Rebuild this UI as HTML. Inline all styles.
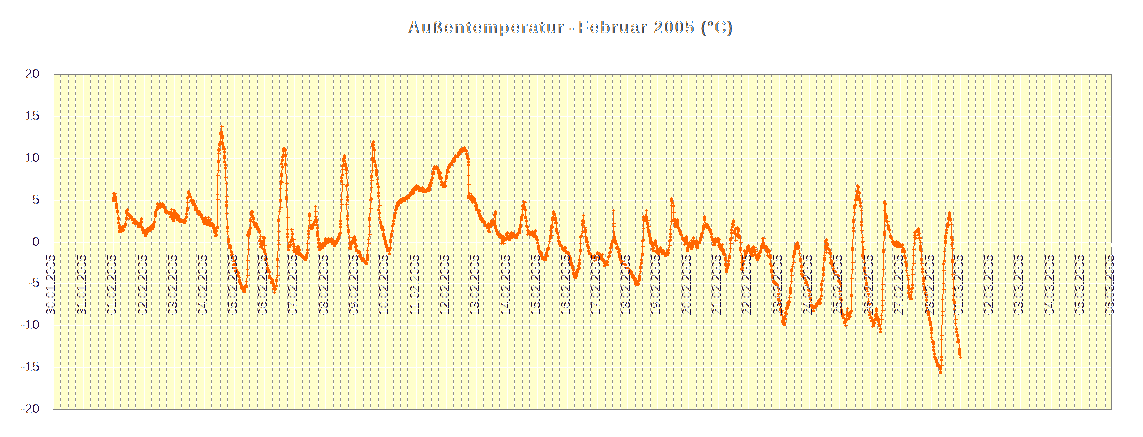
<!DOCTYPE html>
<html lang="de"><head><meta charset="utf-8"><title>Außentemperatur - Februar 2005 (°C)</title>
<style>html,body{margin:0;padding:0;background:#fff;}body{width:1143px;height:437px;overflow:hidden;}svg{display:block;}</style>
</head><body>
<svg width="1143" height="437" viewBox="0 0 1143 437">
<rect x="0" y="0" width="1143" height="437" fill="#fff"/>
<rect x="54" y="74" width="1058" height="336" fill="#ffffcc" shape-rendering="crispEdges"/>
<path d="M54 367.5H1111M54 325.5H1111M54 283.5H1111M54 242.5H1111M54 200.5H1111M54 158.5H1111M54 116.5H1111" stroke="#fff" stroke-width="1" fill="none" shape-rendering="crispEdges"/>
<path d="M83.5 74V409M113.5 74V409M144.5 74V409M174.5 74V409M204.5 74V409M234.5 74V409M264.5 74V409M294.5 74V409M325.5 74V409M355.5 74V409M385.5 74V409M416.5 74V409M446.5 74V409M476.5 74V409M507.5 74V409M537.5 74V409M567.5 74V409M597.5 74V409M627.5 74V409M657.5 74V409M688.5 74V409M718.5 74V409M748.5 74V409M779.5 74V409M809.5 74V409M839.5 74V409M870.5 74V409M900.5 74V409M931.5 74V409M960.5 74V409M990.5 74V409M1020.5 74V409M1051.5 74V409M1081.5 74V409" stroke="#fff" stroke-width="1" fill="none" shape-rendering="crispEdges"/>
<path d="M60.5 74V409M68.5 74V409M75.5 74V409M90.5 74V409M98.5 74V409M105.5 74V409M120.5 74V409M128.5 74V409M135.5 74V409M151.5 74V409M159.5 74V409M166.5 74V409M181.5 74V409M189.5 74V409M196.5 74V409M211.5 74V409M220.5 74V409M227.5 74V409M242.5 74V409M249.5 74V409M257.5 74V409M272.5 74V409M279.5 74V409M287.5 74V409M302.5 74V409M309.5 74V409M318.5 74V409M333.5 74V409M340.5 74V409M348.5 74V409M363.5 74V409M370.5 74V409M378.5 74V409M393.5 74V409M400.5 74V409M407.5 74V409M423.5 74V409M431.5 74V409M438.5 74V409M453.5 74V409M461.5 74V409M468.5 74V409M483.5 74V409M492.5 74V409M499.5 74V409M514.5 74V409M522.5 74V409M529.5 74V409M544.5 74V409M552.5 74V409M559.5 74V409M574.5 74V409M583.5 74V409M590.5 74V409M605.5 74V409M612.5 74V409M620.5 74V409M635.5 74V409M642.5 74V409M650.5 74V409M666.5 74V409M673.5 74V409M681.5 74V409M696.5 74V409M703.5 74V409M711.5 74V409M726.5 74V409M733.5 74V409M741.5 74V409M757.5 74V409M764.5 74V409M771.5 74V409M786.5 74V409M794.5 74V409M801.5 74V409M816.5 74V409M824.5 74V409M831.5 74V409M846.5 74V409M855.5 74V409M862.5 74V409M877.5 74V409M885.5 74V409M892.5 74V409M907.5 74V409M915.5 74V409M922.5 74V409M938.5 74V409M945.5 74V409M953.5 74V409M968.5 74V409M975.5 74V409M983.5 74V409M998.5 74V409M1005.5 74V409M1013.5 74V409M1029.5 74V409M1036.5 74V409M1044.5 74V409M1059.5 74V409M1066.5 74V409M1074.5 74V409M1089.5 74V409M1096.5 74V409M1105.5 74V409" stroke="#fff" stroke-width="1" fill="none" shape-rendering="crispEdges"/>
<path d="M60.5 74V409M68.5 74V409M75.5 74V409M90.5 74V409M98.5 74V409M105.5 74V409M120.5 74V409M128.5 74V409M135.5 74V409M151.5 74V409M159.5 74V409M166.5 74V409M181.5 74V409M189.5 74V409M196.5 74V409M211.5 74V409M220.5 74V409M227.5 74V409M242.5 74V409M249.5 74V409M257.5 74V409M272.5 74V409M279.5 74V409M287.5 74V409M302.5 74V409M309.5 74V409M318.5 74V409M333.5 74V409M340.5 74V409M348.5 74V409M363.5 74V409M370.5 74V409M378.5 74V409M393.5 74V409M400.5 74V409M407.5 74V409M423.5 74V409M431.5 74V409M438.5 74V409M453.5 74V409M461.5 74V409M468.5 74V409M483.5 74V409M492.5 74V409M499.5 74V409M514.5 74V409M522.5 74V409M529.5 74V409M544.5 74V409M552.5 74V409M559.5 74V409M574.5 74V409M583.5 74V409M590.5 74V409M605.5 74V409M612.5 74V409M620.5 74V409M635.5 74V409M642.5 74V409M650.5 74V409M666.5 74V409M673.5 74V409M681.5 74V409M696.5 74V409M703.5 74V409M711.5 74V409M726.5 74V409M733.5 74V409M741.5 74V409M757.5 74V409M764.5 74V409M771.5 74V409M786.5 74V409M794.5 74V409M801.5 74V409M816.5 74V409M824.5 74V409M831.5 74V409M846.5 74V409M855.5 74V409M862.5 74V409M877.5 74V409M885.5 74V409M892.5 74V409M907.5 74V409M915.5 74V409M922.5 74V409M938.5 74V409M945.5 74V409M953.5 74V409M968.5 74V409M975.5 74V409M983.5 74V409M998.5 74V409M1005.5 74V409M1013.5 74V409M1029.5 74V409M1036.5 74V409M1044.5 74V409M1059.5 74V409M1066.5 74V409M1074.5 74V409M1089.5 74V409M1096.5 74V409M1105.5 74V409" stroke="#909090" stroke-width="1" stroke-dasharray="3 3" fill="none" shape-rendering="crispEdges"/>
<path d="M54 74.5H1112M1111.5 74V410M53 409.5H1112" stroke="#808080" stroke-width="1" fill="none" shape-rendering="crispEdges"/>
<rect x="1111" y="243" width="1" height="4" fill="#fff" shape-rendering="crispEdges"/>
<defs><filter id="ctn" filterUnits="userSpaceOnUse" x="0" y="0" width="1143" height="437" color-interpolation-filters="sRGB">
<feComponentTransfer in="SourceAlpha" result="S"><feFuncA type="linear" slope="8" intercept="-3.3"/></feComponentTransfer>
<feOffset in="S" dx="2" result="sr"/><feOffset in="S" dx="-2" result="sl"/>
<feOffset in="S" dx="2" result="sr2"/><feOffset in="S" dx="-2" result="sl2"/>
<feOffset in="S" dy="1" result="sd"/><feOffset in="S" dy="-1" result="su"/>
<feOffset in="S" dx="1" dy="1" result="sd1"/><feOffset in="S" dx="-1" dy="1" result="sd2"/><feOffset in="S" dx="1" dy="-1" result="su1"/><feOffset in="S" dx="-1" dy="-1" result="su2"/>
<feMerge result="V0"><feMergeNode in="sd"/><feMergeNode in="su"/><feMergeNode in="sd1"/><feMergeNode in="sd2"/><feMergeNode in="su1"/><feMergeNode in="su2"/></feMerge><feComposite in="V0" in2="S" operator="in" result="V"/>
<feComposite in="S" in2="sr" operator="out" result="Lm0"/><feComposite in="Lm0" in2="V" operator="in" result="Lm"/>
<feComposite in="S" in2="sl" operator="out" result="Rm0"/><feComposite in="Rm0" in2="V" operator="in" result="Rm"/>
<feComposite in="S" in2="sr2" operator="out" result="Lm2"/>
<feComposite in="S" in2="sl2" operator="out" result="Rm2"/>
<feComposite in="Lm2" in2="Rm2" operator="in" result="LRm0"/><feComposite in="LRm0" in2="V" operator="in" result="LRm"/>
<feFlood flood-color="#c06a1e"/><feComposite in2="Lm" operator="in" result="Lc"/>
<feFlood flood-color="#1e5cc0"/><feComposite in2="Rm" operator="in" result="Rc"/>
<feFlood flood-color="#2a0a48" flood-opacity="1.0"/><feComposite in2="LRm" operator="in" result="LRc"/>
<feFlood flood-color="#ffffff"/><feComposite in2="S" operator="in" result="Wc"/>
<feOffset in="S" dx="1" result="s1r"/><feOffset in="S" dx="-1" result="s1l"/>
<feComposite in="S" in2="s1r" operator="out" result="Le"/><feComposite in="S" in2="s1l" operator="out" result="Re"/>
<feFlood flood-color="#e8902a" flood-opacity="1.0"/><feComposite in2="Le" operator="in" result="Lec"/>
<feFlood flood-color="#3a90e8" flood-opacity="1.0"/><feComposite in2="Re" operator="in" result="Rec"/>
<feMerge><feMergeNode in="Wc"/><feMergeNode in="Lec"/><feMergeNode in="Rec"/><feMergeNode in="Lc"/><feMergeNode in="Rc"/><feMergeNode in="LRc"/></feMerge></filter><filter id="ctx" filterUnits="userSpaceOnUse" x="0" y="0" width="1143" height="437" color-interpolation-filters="sRGB">
<feComponentTransfer in="SourceAlpha" result="S"><feFuncA type="linear" slope="8" intercept="-3.0"/></feComponentTransfer>
<feOffset in="S" dx="1" result="sr"/><feOffset in="S" dx="-1" result="sl"/>
<feOffset in="S" dx="1" result="sr2"/><feOffset in="S" dx="-1" result="sl2"/>
<feOffset in="S" dy="1" result="sd"/><feOffset in="S" dy="-1" result="su"/>
<feOffset in="S" dx="1" dy="1" result="sd1"/><feOffset in="S" dx="-1" dy="1" result="sd2"/><feOffset in="S" dx="1" dy="-1" result="su1"/><feOffset in="S" dx="-1" dy="-1" result="su2"/>
<feMerge result="V0"><feMergeNode in="sd"/><feMergeNode in="su"/></feMerge><feComposite in="V0" in2="S" operator="in" result="V"/>
<feComposite in="S" in2="sr" operator="out" result="Lm0"/><feComposite in="Lm0" in2="V" operator="in" result="Lm"/>
<feComposite in="S" in2="sl" operator="out" result="Rm0"/><feComposite in="Rm0" in2="V" operator="in" result="Rm"/>
<feComposite in="S" in2="sr2" operator="out" result="Lm2"/>
<feComposite in="S" in2="sl2" operator="out" result="Rm2"/>
<feComposite in="Lm2" in2="Rm2" operator="in" result="LRm0"/><feComposite in="LRm0" in2="V" operator="in" result="LRm"/>
<feFlood flood-color="#853f14"/><feComposite in2="Lm" operator="in" result="Lc"/>
<feFlood flood-color="#0e1e88"/><feComposite in2="Rm" operator="in" result="Rc"/>
<feFlood flood-color="#1a0838" flood-opacity="1.0"/><feComposite in2="LRm" operator="in" result="LRc"/>
<feFlood flood-color="#ffffff"/><feComposite in2="S" operator="in" result="Wc"/>
<feOffset in="S" dx="1" result="s1r"/><feOffset in="S" dx="-1" result="s1l"/>
<feComposite in="S" in2="s1r" operator="out" result="Le"/><feComposite in="S" in2="s1l" operator="out" result="Re"/>
<feFlood flood-color="#e8902a" flood-opacity="0.45"/><feComposite in2="Le" operator="in" result="Lec"/>
<feFlood flood-color="#3a90e8" flood-opacity="0.45"/><feComposite in2="Re" operator="in" result="Rec"/>
<feMerge><feMergeNode in="Wc"/><feMergeNode in="Lec"/><feMergeNode in="Rec"/><feMergeNode in="Lc"/><feMergeNode in="Rc"/><feMergeNode in="LRc"/></feMerge></filter><filter id="ctb" filterUnits="userSpaceOnUse" x="0" y="0" width="1143" height="437" color-interpolation-filters="sRGB">
<feComponentTransfer in="SourceAlpha" result="S"><feFuncA type="linear" slope="8" intercept="-2.4"/></feComponentTransfer>
<feOffset in="S" dx="1" result="sr"/><feOffset in="S" dx="-1" result="sl"/>
<feOffset in="S" dx="2" result="sr2"/><feOffset in="S" dx="-2" result="sl2"/>
<feOffset in="S" dy="1" result="sd"/><feOffset in="S" dy="-1" result="su"/>
<feOffset in="S" dx="1" dy="1" result="sd1"/><feOffset in="S" dx="-1" dy="1" result="sd2"/><feOffset in="S" dx="1" dy="-1" result="su1"/><feOffset in="S" dx="-1" dy="-1" result="su2"/>
<feMerge result="V0"><feMergeNode in="sd"/><feMergeNode in="su"/><feMergeNode in="sd1"/><feMergeNode in="sd2"/><feMergeNode in="su1"/><feMergeNode in="su2"/></feMerge><feComposite in="V0" in2="S" operator="in" result="V"/>
<feComposite in="S" in2="sr" operator="out" result="Lm0"/><feComposite in="Lm0" in2="V" operator="in" result="Lm"/>
<feComposite in="S" in2="sl" operator="out" result="Rm0"/><feComposite in="Rm0" in2="V" operator="in" result="Rm"/>
<feComposite in="S" in2="sr2" operator="out" result="Lm2"/>
<feComposite in="S" in2="sl2" operator="out" result="Rm2"/>
<feComposite in="Lm2" in2="Rm2" operator="in" result="LRm0"/><feComposite in="LRm0" in2="V" operator="in" result="LRm"/>
<feFlood flood-color="#e08a1e"/><feComposite in2="Lm" operator="in" result="Lc"/>
<feFlood flood-color="#1e82e0"/><feComposite in2="Rm" operator="in" result="Rc"/>
<feFlood flood-color="#1a0a30" flood-opacity="0.45"/><feComposite in2="LRm" operator="in" result="LRc"/>
<feFlood flood-color="#ffffff"/><feComposite in2="S" operator="in" result="Wc"/>
<feOffset in="S" dx="1" result="s1r"/><feOffset in="S" dx="-1" result="s1l"/>
<feComposite in="S" in2="s1r" operator="out" result="Le"/><feComposite in="S" in2="s1l" operator="out" result="Re"/>
<feFlood flood-color="#e8902a" flood-opacity="0.7"/><feComposite in2="Le" operator="in" result="Lec"/>
<feFlood flood-color="#3a90e8" flood-opacity="0.7"/><feComposite in2="Re" operator="in" result="Rec"/>
<feMerge><feMergeNode in="Wc"/><feMergeNode in="Lec"/><feMergeNode in="Rec"/><feMergeNode in="Lc"/><feMergeNode in="Rc"/><feMergeNode in="LRc"/></feMerge></filter></defs>
<path d="M113.5 193.5L113.5 198.5L113.5 200.5L114.5 193.5L113.5 197.5L114.5 198.5L114.5 197.5L114.5 194.5L115.5 196.5L115.5 199.5L115.5 198.5L115.5 199.5L116.5 203.5L116.5 205.5L116.5 207.5L117.5 210.5L117.5 211.5L118.5 217.5L118.5 218.5L118.5 222.5L119.5 225.5L119.5 226.5L119.5 227.5L119.5 231.5L119.5 230.5L120.5 231.5L120.5 230.5L121.5 229.5L122.5 228.5L122.5 230.5L122.5 226.5L123.5 226.5L124.5 226.5L123.5 229.5L124.5 225.5L125.5 224.5L125.5 223.5L126.5 218.5L126.5 217.5L126.5 212.5L126.5 210.5L126.5 212.5L127.5 209.5L128.5 214.5L128.5 213.5L129.5 218.5L129.5 214.5L129.5 215.5L130.5 215.5L130.5 216.5L131.5 217.5L132.5 219.5L131.5 216.5L132.5 219.5L132.5 218.5L133.5 219.5L133.5 222.5L134.5 219.5L134.5 221.5L135.5 222.5L135.5 223.5L136.5 221.5L137.5 222.5L137.5 223.5L138.5 225.5L138.5 223.5L138.5 226.5L138.5 225.5L139.5 226.5L139.5 225.5L140.5 225.5L140.5 222.5L141.5 218.5L141.5 221.5L141.5 226.5L142.5 227.5L142.5 228.5L142.5 229.5L143.5 231.5L143.5 232.5L143.5 229.5L144.5 231.5L144.5 232.5L145.5 235.5L145.5 233.5L145.5 230.5L146.5 233.5L147.5 231.5L147.5 229.5L147.5 228.5L147.5 229.5L148.5 228.5L148.5 229.5L149.5 230.5L150.5 229.5L150.5 226.5L150.5 227.5L151.5 227.5L152.5 228.5L152.5 224.5L153.5 226.5L153.5 224.5L153.5 225.5L153.5 223.5L154.5 221.5L155.5 215.5L155.5 214.5L155.5 212.5L155.5 211.5L156.5 209.5L157.5 208.5L157.5 206.5L157.5 203.5L158.5 207.5L158.5 205.5L158.5 207.5L159.5 207.5L160.5 203.5L160.5 205.5L162.5 204.5L162.5 206.5L162.5 203.5L163.5 204.5L163.5 205.5L164.5 207.5L164.5 206.5L165.5 209.5L165.5 211.5L166.5 210.5L166.5 212.5L166.5 211.5L167.5 212.5L168.5 212.5L169.5 213.5L169.5 212.5L170.5 216.5L170.5 213.5L171.5 209.5L171.5 213.5L172.5 216.5L172.5 215.5L172.5 218.5L173.5 217.5L173.5 220.5L173.5 212.5L174.5 218.5L174.5 210.5L174.5 211.5L174.5 212.5L175.5 215.5L175.5 216.5L175.5 215.5L176.5 213.5L176.5 216.5L176.5 214.5L177.5 219.5L178.5 218.5L178.5 215.5L179.5 219.5L179.5 218.5L179.5 220.5L179.5 219.5L180.5 221.5L181.5 220.5L182.5 220.5L182.5 221.5L182.5 220.5L183.5 221.5L183.5 220.5L184.5 222.5L184.5 219.5L184.5 222.5L185.5 220.5L186.5 216.5L186.5 213.5L187.5 209.5L187.5 207.5L187.5 202.5L187.5 197.5L188.5 196.5L188.5 192.5L188.5 191.5L189.5 193.5L189.5 194.5L189.5 195.5L190.5 196.5L191.5 199.5L191.5 200.5L192.5 202.5L192.5 200.5L193.5 202.5L193.5 200.5L193.5 204.5L194.5 203.5L195.5 206.5L195.5 205.5L196.5 207.5L195.5 207.5L195.5 209.5L196.5 207.5L196.5 209.5L197.5 210.5L197.5 211.5L198.5 213.5L198.5 212.5L199.5 211.5L199.5 213.5L199.5 214.5L200.5 213.5L201.5 215.5L201.5 214.5L201.5 215.5L201.5 216.5L202.5 218.5L202.5 217.5L203.5 220.5L203.5 221.5L204.5 222.5L204.5 223.5L204.5 221.5L205.5 217.5L205.5 220.5L206.5 222.5L206.5 219.5L207.5 223.5L207.5 224.5L208.5 217.5L208.5 222.5L209.5 221.5L209.5 225.5L210.5 219.5L210.5 224.5L210.5 222.5L211.5 224.5L211.5 225.5L212.5 223.5L213.5 224.5L212.5 225.5L213.5 227.5L214.5 227.5L214.5 231.5L214.5 229.5L214.5 231.5L215.5 232.5L215.5 235.5L216.5 234.5L216.5 230.5L217.5 227.5L217.5 226.5L217.5 199.5L217.5 194.5L217.5 175.5L218.5 170.5L218.5 161.5L218.5 160.5L218.5 153.5L219.5 149.5L218.5 149.5L219.5 144.5L219.5 143.5L220.5 141.5L220.5 133.5L220.5 132.5L220.5 133.5L221.5 132.5L221.5 126.5L221.5 131.5L222.5 135.5L222.5 137.5L222.5 142.5L222.5 143.5L223.5 147.5L223.5 146.5L223.5 148.5L224.5 148.5L224.5 151.5L224.5 155.5L224.5 157.5L224.5 161.5L225.5 164.5L225.5 167.5L225.5 177.5L226.5 183.5L226.5 196.5L226.5 201.5L226.5 204.5L226.5 205.5L226.5 213.5L227.5 226.5L227.5 227.5L227.5 231.5L228.5 238.5L228.5 239.5L228.5 241.5L229.5 247.5L230.5 247.5L229.5 245.5L230.5 245.5L231.5 255.5L231.5 251.5L231.5 254.5L231.5 255.5L232.5 254.5L232.5 255.5L232.5 257.5L233.5 261.5L233.5 264.5L234.5 261.5L234.5 267.5L235.5 264.5L235.5 270.5L235.5 267.5L235.5 269.5L236.5 269.5L236.5 270.5L237.5 274.5L237.5 275.5L238.5 272.5L239.5 277.5L239.5 281.5L239.5 279.5L239.5 280.5L240.5 282.5L240.5 283.5L241.5 287.5L241.5 285.5L241.5 286.5L242.5 288.5L242.5 287.5L242.5 288.5L243.5 290.5L243.5 287.5L243.5 288.5L244.5 290.5L244.5 289.5L244.5 291.5L245.5 286.5L245.5 285.5L246.5 286.5L246.5 285.5L246.5 281.5L247.5 275.5L247.5 269.5L247.5 260.5L248.5 249.5L248.5 235.5L247.5 234.5L248.5 231.5L249.5 233.5L249.5 231.5L249.5 229.5L250.5 227.5L250.5 220.5L250.5 219.5L251.5 214.5L251.5 211.5L251.5 212.5L252.5 211.5L252.5 215.5L252.5 216.5L253.5 217.5L253.5 221.5L253.5 218.5L253.5 221.5L254.5 223.5L254.5 222.5L254.5 224.5L255.5 224.5L255.5 225.5L255.5 226.5L256.5 223.5L257.5 227.5L257.5 226.5L257.5 227.5L257.5 228.5L258.5 228.5L258.5 229.5L259.5 230.5L259.5 231.5L260.5 236.5L259.5 240.5L260.5 243.5L260.5 240.5L260.5 246.5L261.5 244.5L261.5 241.5L262.5 243.5L262.5 248.5L263.5 240.5L263.5 237.5L264.5 237.5L264.5 245.5L264.5 251.5L264.5 249.5L265.5 253.5L265.5 254.5L265.5 255.5L265.5 258.5L265.5 259.5L266.5 258.5L267.5 265.5L267.5 269.5L267.5 265.5L267.5 267.5L268.5 271.5L268.5 269.5L269.5 271.5L269.5 275.5L269.5 277.5L270.5 277.5L271.5 281.5L271.5 282.5L272.5 279.5L272.5 281.5L273.5 284.5L273.5 283.5L273.5 285.5L273.5 288.5L274.5 288.5L274.5 285.5L274.5 292.5L275.5 288.5L276.5 285.5L276.5 280.5L276.5 279.5L277.5 275.5L277.5 266.5L277.5 259.5L277.5 258.5L278.5 244.5L278.5 240.5L278.5 231.5L278.5 220.5L278.5 219.5L279.5 211.5L280.5 207.5L280.5 200.5L280.5 199.5L280.5 188.5L280.5 181.5L280.5 188.5L281.5 182.5L281.5 175.5L281.5 173.5L282.5 166.5L281.5 163.5L282.5 159.5L282.5 156.5L282.5 159.5L283.5 155.5L283.5 154.5L283.5 150.5L283.5 148.5L284.5 148.5L285.5 149.5L285.5 154.5L285.5 155.5L285.5 163.5L285.5 164.5L286.5 183.5L286.5 190.5L286.5 196.5L286.5 198.5L287.5 217.5L287.5 229.5L287.5 233.5L287.5 236.5L288.5 246.5L288.5 245.5L288.5 249.5L289.5 246.5L290.5 241.5L290.5 244.5L291.5 239.5L292.5 233.5L291.5 229.5L292.5 234.5L292.5 240.5L293.5 243.5L293.5 239.5L293.5 246.5L293.5 250.5L294.5 246.5L294.5 251.5L294.5 248.5L295.5 249.5L295.5 251.5L296.5 253.5L296.5 252.5L296.5 249.5L297.5 250.5L297.5 246.5L297.5 247.5L298.5 246.5L298.5 251.5L299.5 249.5L299.5 254.5L299.5 253.5L300.5 253.5L300.5 254.5L301.5 254.5L301.5 255.5L302.5 256.5L302.5 255.5L303.5 256.5L303.5 257.5L304.5 258.5L305.5 259.5L306.5 257.5L306.5 256.5L306.5 254.5L307.5 252.5L307.5 249.5L307.5 243.5L308.5 237.5L308.5 233.5L308.5 230.5L309.5 220.5L309.5 213.5L309.5 215.5L309.5 220.5L310.5 227.5L311.5 225.5L311.5 228.5L312.5 227.5L312.5 226.5L313.5 223.5L314.5 224.5L314.5 221.5L315.5 216.5L315.5 206.5L315.5 211.5L316.5 219.5L316.5 221.5L316.5 224.5L317.5 227.5L317.5 231.5L317.5 233.5L317.5 235.5L318.5 238.5L318.5 239.5L318.5 242.5L318.5 246.5L319.5 249.5L319.5 245.5L320.5 248.5L320.5 247.5L320.5 243.5L321.5 246.5L322.5 247.5L322.5 246.5L322.5 243.5L323.5 244.5L324.5 245.5L324.5 242.5L325.5 239.5L325.5 244.5L325.5 238.5L325.5 239.5L326.5 240.5L326.5 239.5L327.5 241.5L327.5 242.5L328.5 240.5L328.5 238.5L329.5 241.5L329.5 240.5L330.5 241.5L331.5 240.5L331.5 238.5L331.5 241.5L332.5 239.5L332.5 241.5L332.5 243.5L333.5 242.5L334.5 242.5L334.5 245.5L334.5 242.5L334.5 241.5L335.5 243.5L335.5 242.5L336.5 242.5L336.5 240.5L337.5 240.5L337.5 239.5L337.5 238.5L338.5 237.5L338.5 238.5L338.5 236.5L339.5 234.5L339.5 233.5L340.5 232.5L340.5 226.5L340.5 223.5L340.5 220.5L341.5 204.5L341.5 199.5L342.5 184.5L341.5 180.5L341.5 177.5L342.5 174.5L342.5 169.5L342.5 165.5L343.5 165.5L343.5 160.5L343.5 158.5L344.5 157.5L344.5 155.5L345.5 163.5L345.5 165.5L346.5 167.5L346.5 169.5L346.5 173.5L347.5 184.5L346.5 185.5L347.5 196.5L347.5 199.5L346.5 204.5L347.5 215.5L347.5 218.5L347.5 225.5L348.5 229.5L348.5 231.5L349.5 237.5L349.5 243.5L349.5 247.5L350.5 246.5L350.5 248.5L351.5 243.5L351.5 242.5L351.5 241.5L351.5 242.5L352.5 242.5L352.5 240.5L353.5 241.5L353.5 237.5L354.5 236.5L354.5 241.5L354.5 239.5L355.5 239.5L355.5 243.5L356.5 245.5L355.5 246.5L356.5 250.5L356.5 249.5L357.5 250.5L358.5 252.5L358.5 251.5L359.5 251.5L359.5 255.5L359.5 252.5L359.5 255.5L360.5 254.5L360.5 256.5L361.5 257.5L361.5 258.5L362.5 258.5L362.5 259.5L362.5 260.5L362.5 259.5L363.5 258.5L363.5 259.5L364.5 260.5L365.5 262.5L365.5 261.5L366.5 263.5L365.5 261.5L366.5 262.5L367.5 259.5L367.5 257.5L367.5 255.5L367.5 254.5L367.5 250.5L368.5 243.5L368.5 239.5L369.5 234.5L369.5 226.5L369.5 219.5L369.5 217.5L370.5 208.5L371.5 198.5L370.5 199.5L371.5 187.5L371.5 180.5L371.5 176.5L371.5 175.5L372.5 170.5L372.5 159.5L372.5 157.5L372.5 145.5L372.5 143.5L373.5 147.5L373.5 144.5L373.5 141.5L373.5 149.5L374.5 149.5L374.5 160.5L374.5 161.5L375.5 164.5L375.5 165.5L376.5 169.5L376.5 172.5L376.5 171.5L376.5 174.5L377.5 179.5L377.5 183.5L378.5 186.5L378.5 195.5L378.5 192.5L379.5 205.5L378.5 209.5L379.5 212.5L379.5 217.5L380.5 221.5L380.5 222.5L380.5 221.5L381.5 227.5L381.5 226.5L381.5 225.5L382.5 226.5L382.5 229.5L383.5 229.5L383.5 233.5L383.5 235.5L384.5 236.5L384.5 237.5L384.5 238.5L385.5 240.5L385.5 242.5L385.5 243.5L386.5 244.5L386.5 246.5L387.5 247.5L387.5 248.5L387.5 250.5L388.5 250.5L389.5 253.5L388.5 250.5L389.5 249.5L390.5 247.5L390.5 241.5L390.5 239.5L391.5 235.5L391.5 233.5L392.5 230.5L392.5 225.5L393.5 223.5L393.5 220.5L394.5 217.5L394.5 215.5L394.5 214.5L395.5 212.5L395.5 209.5L396.5 208.5L396.5 206.5L396.5 205.5L397.5 205.5L397.5 202.5L397.5 203.5L398.5 204.5L398.5 203.5L399.5 200.5L400.5 202.5L399.5 200.5L400.5 199.5L401.5 201.5L401.5 200.5L401.5 201.5L402.5 198.5L402.5 199.5L403.5 199.5L403.5 198.5L404.5 198.5L404.5 200.5L404.5 198.5L405.5 198.5L406.5 198.5L405.5 198.5L406.5 198.5L406.5 196.5L407.5 197.5L407.5 196.5L408.5 197.5L408.5 195.5L409.5 195.5L409.5 194.5L410.5 194.5L410.5 193.5L410.5 192.5L410.5 193.5L411.5 192.5L411.5 191.5L412.5 192.5L412.5 189.5L412.5 193.5L413.5 192.5L413.5 189.5L413.5 190.5L414.5 188.5L414.5 187.5L415.5 188.5L415.5 187.5L415.5 189.5L416.5 185.5L417.5 187.5L417.5 186.5L418.5 187.5L418.5 186.5L418.5 188.5L419.5 188.5L419.5 190.5L420.5 189.5L420.5 188.5L421.5 190.5L421.5 189.5L422.5 190.5L422.5 187.5L423.5 191.5L423.5 190.5L424.5 189.5L424.5 190.5L424.5 191.5L425.5 191.5L425.5 190.5L426.5 189.5L426.5 190.5L427.5 189.5L428.5 190.5L428.5 187.5L429.5 189.5L429.5 187.5L429.5 184.5L430.5 184.5L430.5 185.5L430.5 183.5L430.5 182.5L431.5 182.5L431.5 179.5L432.5 177.5L432.5 173.5L433.5 173.5L433.5 171.5L433.5 168.5L434.5 168.5L434.5 166.5L434.5 167.5L434.5 168.5L435.5 168.5L436.5 167.5L436.5 166.5L436.5 167.5L437.5 167.5L437.5 168.5L438.5 169.5L438.5 170.5L438.5 172.5L439.5 177.5L439.5 175.5L440.5 172.5L440.5 176.5L440.5 178.5L441.5 177.5L441.5 181.5L441.5 184.5L442.5 183.5L442.5 184.5L443.5 186.5L443.5 183.5L444.5 186.5L444.5 183.5L444.5 185.5L445.5 185.5L445.5 181.5L446.5 177.5L446.5 176.5L446.5 177.5L446.5 175.5L447.5 171.5L447.5 169.5L448.5 171.5L448.5 166.5L448.5 167.5L449.5 166.5L449.5 164.5L450.5 164.5L450.5 163.5L451.5 162.5L451.5 164.5L451.5 162.5L452.5 161.5L452.5 160.5L452.5 161.5L453.5 161.5L453.5 158.5L454.5 159.5L454.5 158.5L454.5 160.5L454.5 157.5L455.5 156.5L455.5 155.5L456.5 156.5L457.5 155.5L457.5 156.5L457.5 155.5L458.5 154.5L458.5 153.5L458.5 152.5L459.5 152.5L459.5 153.5L460.5 149.5L460.5 151.5L461.5 151.5L462.5 149.5L462.5 150.5L462.5 148.5L463.5 150.5L463.5 148.5L464.5 150.5L464.5 147.5L464.5 148.5L465.5 149.5L466.5 150.5L466.5 153.5L467.5 155.5L467.5 157.5L468.5 158.5L468.5 161.5L468.5 164.5L468.5 175.5L468.5 184.5L468.5 195.5L468.5 196.5L468.5 197.5L469.5 193.5L470.5 197.5L470.5 196.5L470.5 198.5L471.5 195.5L471.5 200.5L471.5 196.5L472.5 202.5L472.5 197.5L473.5 198.5L473.5 199.5L474.5 198.5L474.5 200.5L475.5 202.5L476.5 204.5L475.5 205.5L476.5 206.5L476.5 208.5L476.5 209.5L477.5 209.5L478.5 210.5L478.5 212.5L479.5 210.5L479.5 213.5L479.5 215.5L480.5 215.5L480.5 217.5L480.5 218.5L481.5 218.5L481.5 219.5L482.5 218.5L482.5 221.5L482.5 220.5L483.5 221.5L483.5 220.5L484.5 222.5L484.5 221.5L485.5 224.5L485.5 225.5L485.5 224.5L486.5 225.5L487.5 227.5L486.5 225.5L487.5 226.5L488.5 223.5L488.5 230.5L489.5 231.5L489.5 227.5L489.5 231.5L489.5 225.5L490.5 226.5L490.5 224.5L491.5 223.5L491.5 220.5L491.5 225.5L491.5 221.5L492.5 223.5L493.5 221.5L493.5 223.5L493.5 220.5L493.5 222.5L494.5 214.5L495.5 213.5L495.5 211.5L495.5 225.5L495.5 227.5L496.5 229.5L496.5 230.5L496.5 229.5L497.5 231.5L497.5 232.5L497.5 233.5L498.5 233.5L498.5 234.5L499.5 235.5L500.5 234.5L499.5 236.5L500.5 234.5L501.5 235.5L501.5 237.5L501.5 243.5L502.5 236.5L502.5 241.5L503.5 236.5L503.5 243.5L504.5 238.5L504.5 239.5L505.5 238.5L505.5 239.5L506.5 237.5L506.5 234.5L506.5 233.5L507.5 232.5L507.5 238.5L508.5 238.5L508.5 237.5L508.5 238.5L509.5 239.5L509.5 235.5L510.5 233.5L510.5 237.5L511.5 232.5L511.5 236.5L511.5 237.5L512.5 233.5L513.5 233.5L513.5 235.5L514.5 236.5L514.5 235.5L514.5 236.5L515.5 236.5L516.5 234.5L516.5 236.5L516.5 235.5L516.5 237.5L517.5 234.5L517.5 233.5L519.5 232.5L518.5 232.5L519.5 230.5L519.5 228.5L520.5 226.5L520.5 224.5L521.5 216.5L521.5 219.5L521.5 217.5L522.5 214.5L522.5 209.5L522.5 205.5L523.5 205.5L523.5 201.5L524.5 206.5L524.5 202.5L524.5 207.5L525.5 209.5L525.5 216.5L525.5 217.5L526.5 220.5L526.5 225.5L527.5 226.5L527.5 230.5L527.5 234.5L528.5 230.5L528.5 231.5L529.5 231.5L529.5 232.5L530.5 232.5L530.5 234.5L531.5 233.5L532.5 234.5L532.5 231.5L533.5 235.5L532.5 233.5L533.5 234.5L534.5 236.5L534.5 235.5L534.5 232.5L535.5 230.5L535.5 235.5L536.5 236.5L536.5 238.5L537.5 239.5L537.5 242.5L538.5 245.5L538.5 248.5L538.5 247.5L538.5 248.5L539.5 251.5L539.5 250.5L540.5 253.5L540.5 252.5L540.5 253.5L541.5 253.5L541.5 252.5L541.5 255.5L542.5 256.5L542.5 258.5L542.5 257.5L543.5 257.5L544.5 257.5L544.5 259.5L544.5 258.5L545.5 256.5L545.5 259.5L545.5 257.5L546.5 252.5L546.5 254.5L546.5 252.5L547.5 255.5L547.5 249.5L547.5 248.5L548.5 248.5L548.5 247.5L549.5 241.5L550.5 237.5L550.5 236.5L550.5 235.5L550.5 230.5L551.5 235.5L551.5 227.5L551.5 225.5L552.5 226.5L552.5 219.5L552.5 217.5L553.5 219.5L553.5 213.5L553.5 211.5L554.5 213.5L554.5 214.5L554.5 213.5L555.5 217.5L555.5 219.5L555.5 222.5L556.5 222.5L556.5 228.5L556.5 229.5L556.5 230.5L557.5 232.5L558.5 236.5L558.5 237.5L558.5 236.5L558.5 240.5L559.5 241.5L559.5 243.5L560.5 244.5L560.5 245.5L561.5 245.5L562.5 247.5L562.5 248.5L562.5 247.5L563.5 249.5L564.5 250.5L564.5 247.5L565.5 247.5L565.5 250.5L566.5 252.5L566.5 251.5L567.5 252.5L568.5 252.5L568.5 254.5L568.5 255.5L569.5 255.5L569.5 257.5L570.5 257.5L570.5 259.5L570.5 261.5L571.5 262.5L571.5 263.5L571.5 264.5L572.5 265.5L572.5 267.5L573.5 269.5L573.5 272.5L573.5 273.5L574.5 275.5L574.5 274.5L574.5 276.5L575.5 277.5L575.5 275.5L576.5 275.5L576.5 273.5L576.5 271.5L577.5 270.5L577.5 271.5L577.5 269.5L578.5 268.5L579.5 267.5L578.5 265.5L579.5 263.5L579.5 262.5L579.5 259.5L580.5 250.5L580.5 249.5L580.5 243.5L580.5 236.5L581.5 235.5L582.5 231.5L582.5 224.5L582.5 223.5L582.5 220.5L583.5 220.5L583.5 215.5L583.5 220.5L583.5 222.5L584.5 227.5L584.5 231.5L585.5 230.5L585.5 229.5L585.5 231.5L585.5 236.5L586.5 241.5L586.5 239.5L586.5 237.5L587.5 241.5L587.5 244.5L587.5 245.5L588.5 246.5L588.5 247.5L588.5 250.5L589.5 252.5L589.5 253.5L590.5 253.5L591.5 255.5L591.5 256.5L592.5 257.5L593.5 256.5L593.5 258.5L594.5 255.5L594.5 260.5L594.5 255.5L595.5 258.5L596.5 256.5L596.5 255.5L597.5 252.5L597.5 253.5L597.5 256.5L598.5 255.5L599.5 253.5L598.5 253.5L599.5 255.5L599.5 258.5L600.5 257.5L601.5 256.5L602.5 259.5L601.5 258.5L602.5 254.5L602.5 259.5L603.5 260.5L603.5 259.5L604.5 262.5L604.5 261.5L604.5 265.5L605.5 262.5L605.5 263.5L606.5 262.5L606.5 261.5L606.5 263.5L607.5 264.5L607.5 261.5L607.5 264.5L608.5 256.5L609.5 255.5L609.5 252.5L610.5 251.5L610.5 247.5L611.5 246.5L611.5 244.5L611.5 243.5L612.5 241.5L612.5 240.5L612.5 241.5L613.5 240.5L613.5 226.5L613.5 210.5L613.5 223.5L614.5 237.5L614.5 236.5L614.5 240.5L615.5 241.5L615.5 240.5L615.5 241.5L615.5 242.5L616.5 243.5L617.5 246.5L616.5 247.5L617.5 248.5L617.5 247.5L618.5 248.5L619.5 250.5L618.5 251.5L619.5 253.5L619.5 255.5L619.5 256.5L620.5 258.5L620.5 259.5L621.5 262.5L621.5 261.5L622.5 261.5L622.5 262.5L622.5 261.5L623.5 262.5L623.5 263.5L624.5 262.5L625.5 264.5L625.5 266.5L625.5 265.5L626.5 267.5L627.5 268.5L627.5 267.5L627.5 268.5L629.5 269.5L629.5 270.5L630.5 271.5L630.5 273.5L631.5 271.5L631.5 272.5L632.5 274.5L632.5 276.5L633.5 275.5L633.5 276.5L633.5 277.5L634.5 277.5L634.5 279.5L635.5 278.5L635.5 281.5L635.5 283.5L636.5 281.5L636.5 282.5L636.5 284.5L637.5 284.5L638.5 283.5L638.5 280.5L639.5 279.5L639.5 277.5L639.5 275.5L640.5 271.5L640.5 267.5L640.5 266.5L641.5 262.5L641.5 259.5L642.5 253.5L642.5 254.5L642.5 246.5L642.5 240.5L643.5 239.5L643.5 228.5L643.5 219.5L643.5 216.5L644.5 220.5L644.5 219.5L645.5 220.5L645.5 216.5L645.5 218.5L646.5 210.5L647.5 220.5L647.5 227.5L647.5 222.5L647.5 223.5L648.5 229.5L648.5 231.5L648.5 226.5L649.5 233.5L649.5 235.5L650.5 237.5L650.5 238.5L650.5 240.5L650.5 242.5L651.5 242.5L651.5 243.5L652.5 242.5L652.5 245.5L652.5 248.5L653.5 250.5L653.5 247.5L654.5 244.5L654.5 243.5L655.5 243.5L655.5 240.5L655.5 242.5L656.5 245.5L656.5 250.5L656.5 251.5L657.5 252.5L657.5 248.5L658.5 254.5L658.5 253.5L658.5 250.5L659.5 248.5L660.5 247.5L659.5 249.5L660.5 251.5L661.5 250.5L661.5 251.5L662.5 250.5L662.5 253.5L663.5 250.5L663.5 252.5L663.5 253.5L664.5 252.5L664.5 253.5L665.5 253.5L665.5 255.5L665.5 253.5L666.5 254.5L667.5 253.5L667.5 254.5L667.5 251.5L667.5 250.5L668.5 252.5L668.5 249.5L669.5 245.5L669.5 240.5L670.5 239.5L670.5 236.5L670.5 233.5L670.5 229.5L671.5 221.5L671.5 205.5L671.5 200.5L671.5 198.5L672.5 202.5L673.5 205.5L673.5 212.5L673.5 219.5L674.5 219.5L674.5 223.5L675.5 219.5L675.5 226.5L675.5 224.5L676.5 225.5L676.5 224.5L676.5 222.5L677.5 219.5L677.5 220.5L677.5 221.5L677.5 223.5L678.5 227.5L679.5 229.5L679.5 230.5L680.5 231.5L680.5 233.5L681.5 234.5L682.5 237.5L682.5 238.5L682.5 237.5L683.5 239.5L684.5 244.5L684.5 240.5L684.5 239.5L685.5 237.5L685.5 239.5L685.5 238.5L686.5 238.5L686.5 236.5L686.5 240.5L686.5 242.5L687.5 247.5L687.5 248.5L687.5 250.5L687.5 248.5L688.5 244.5L689.5 244.5L689.5 245.5L689.5 243.5L689.5 242.5L690.5 247.5L691.5 240.5L691.5 248.5L691.5 245.5L692.5 246.5L692.5 244.5L693.5 240.5L693.5 237.5L693.5 243.5L694.5 243.5L694.5 241.5L695.5 241.5L695.5 243.5L696.5 240.5L696.5 246.5L696.5 244.5L697.5 247.5L697.5 245.5L697.5 244.5L698.5 242.5L699.5 242.5L699.5 241.5L699.5 242.5L700.5 239.5L700.5 237.5L701.5 236.5L701.5 235.5L701.5 233.5L702.5 232.5L703.5 228.5L703.5 227.5L703.5 225.5L704.5 220.5L704.5 216.5L704.5 218.5L704.5 220.5L705.5 224.5L705.5 225.5L705.5 226.5L706.5 224.5L706.5 225.5L707.5 227.5L707.5 226.5L707.5 224.5L708.5 226.5L709.5 228.5L709.5 229.5L710.5 229.5L710.5 231.5L710.5 230.5L711.5 233.5L711.5 236.5L712.5 238.5L712.5 239.5L713.5 244.5L713.5 241.5L714.5 243.5L714.5 244.5L714.5 241.5L715.5 238.5L715.5 241.5L716.5 239.5L716.5 241.5L716.5 240.5L717.5 238.5L717.5 239.5L718.5 238.5L718.5 245.5L719.5 239.5L719.5 243.5L719.5 246.5L720.5 245.5L720.5 248.5L720.5 247.5L721.5 245.5L721.5 250.5L722.5 244.5L722.5 250.5L723.5 249.5L723.5 251.5L723.5 253.5L724.5 253.5L724.5 254.5L725.5 257.5L725.5 259.5L725.5 263.5L725.5 264.5L726.5 268.5L726.5 269.5L726.5 271.5L726.5 268.5L727.5 267.5L727.5 266.5L728.5 264.5L728.5 263.5L728.5 260.5L729.5 255.5L729.5 257.5L730.5 248.5L730.5 243.5L730.5 239.5L730.5 238.5L731.5 237.5L731.5 232.5L731.5 229.5L732.5 226.5L732.5 223.5L733.5 220.5L733.5 221.5L733.5 224.5L734.5 230.5L734.5 232.5L734.5 230.5L735.5 228.5L735.5 234.5L735.5 240.5L736.5 234.5L737.5 233.5L737.5 227.5L738.5 228.5L738.5 230.5L738.5 236.5L739.5 236.5L739.5 237.5L739.5 235.5L740.5 242.5L740.5 247.5L740.5 249.5L741.5 255.5L741.5 262.5L741.5 268.5L742.5 269.5L742.5 267.5L743.5 263.5L743.5 260.5L743.5 259.5L743.5 258.5L743.5 259.5L744.5 257.5L744.5 250.5L745.5 253.5L745.5 252.5L745.5 255.5L746.5 252.5L746.5 251.5L747.5 247.5L747.5 249.5L747.5 246.5L748.5 245.5L748.5 247.5L748.5 246.5L749.5 250.5L749.5 248.5L750.5 252.5L750.5 249.5L751.5 249.5L751.5 251.5L751.5 248.5L751.5 254.5L752.5 255.5L753.5 246.5L753.5 249.5L753.5 251.5L754.5 247.5L754.5 254.5L754.5 249.5L755.5 255.5L755.5 251.5L756.5 256.5L756.5 257.5L757.5 254.5L757.5 256.5L757.5 259.5L758.5 256.5L758.5 257.5L759.5 252.5L759.5 255.5L760.5 250.5L760.5 251.5L761.5 247.5L761.5 246.5L761.5 245.5L762.5 243.5L762.5 238.5L763.5 242.5L763.5 238.5L764.5 245.5L764.5 247.5L764.5 245.5L765.5 246.5L766.5 249.5L766.5 246.5L766.5 250.5L767.5 251.5L767.5 255.5L767.5 249.5L768.5 249.5L769.5 250.5L769.5 256.5L770.5 255.5L769.5 255.5L770.5 257.5L770.5 256.5L770.5 263.5L771.5 265.5L771.5 269.5L771.5 271.5L772.5 276.5L772.5 275.5L772.5 276.5L773.5 280.5L773.5 281.5L774.5 281.5L774.5 282.5L775.5 283.5L776.5 283.5L776.5 284.5L777.5 284.5L778.5 288.5L778.5 293.5L778.5 296.5L778.5 297.5L778.5 299.5L779.5 300.5L779.5 303.5L780.5 308.5L780.5 309.5L781.5 311.5L781.5 314.5L781.5 310.5L782.5 320.5L782.5 321.5L783.5 319.5L783.5 323.5L784.5 322.5L784.5 324.5L784.5 316.5L785.5 318.5L785.5 312.5L786.5 313.5L786.5 308.5L786.5 307.5L787.5 305.5L787.5 307.5L788.5 304.5L787.5 302.5L788.5 302.5L788.5 301.5L789.5 301.5L789.5 297.5L790.5 292.5L790.5 290.5L790.5 288.5L790.5 287.5L791.5 281.5L791.5 275.5L791.5 269.5L791.5 270.5L792.5 266.5L793.5 262.5L793.5 256.5L793.5 255.5L794.5 253.5L794.5 252.5L794.5 250.5L795.5 246.5L795.5 247.5L795.5 245.5L796.5 248.5L797.5 242.5L796.5 243.5L796.5 248.5L797.5 247.5L797.5 245.5L798.5 245.5L798.5 246.5L798.5 247.5L798.5 245.5L799.5 253.5L800.5 258.5L800.5 260.5L800.5 259.5L801.5 266.5L801.5 265.5L801.5 270.5L801.5 273.5L802.5 275.5L803.5 276.5L803.5 275.5L803.5 276.5L804.5 278.5L804.5 276.5L804.5 277.5L805.5 279.5L805.5 282.5L806.5 281.5L806.5 282.5L807.5 284.5L807.5 285.5L808.5 289.5L809.5 291.5L809.5 292.5L809.5 295.5L809.5 296.5L810.5 297.5L810.5 298.5L811.5 304.5L811.5 305.5L812.5 305.5L812.5 307.5L813.5 310.5L814.5 306.5L814.5 307.5L815.5 305.5L815.5 306.5L816.5 305.5L816.5 303.5L816.5 304.5L817.5 303.5L818.5 300.5L818.5 302.5L818.5 301.5L819.5 300.5L819.5 303.5L820.5 302.5L820.5 298.5L821.5 295.5L821.5 288.5L821.5 289.5L821.5 284.5L821.5 283.5L822.5 280.5L823.5 274.5L823.5 273.5L823.5 269.5L823.5 267.5L824.5 257.5L824.5 259.5L824.5 255.5L825.5 247.5L825.5 245.5L825.5 240.5L825.5 241.5L826.5 239.5L826.5 242.5L826.5 252.5L827.5 244.5L827.5 243.5L827.5 247.5L828.5 248.5L829.5 249.5L829.5 252.5L830.5 252.5L830.5 253.5L830.5 257.5L830.5 262.5L831.5 260.5L831.5 263.5L832.5 264.5L832.5 263.5L832.5 265.5L833.5 268.5L833.5 269.5L834.5 272.5L835.5 273.5L835.5 272.5L835.5 271.5L836.5 273.5L836.5 274.5L836.5 273.5L837.5 274.5L838.5 275.5L838.5 280.5L839.5 280.5L839.5 279.5L839.5 281.5L840.5 283.5L839.5 291.5L840.5 297.5L840.5 298.5L841.5 299.5L841.5 309.5L841.5 311.5L842.5 315.5L843.5 314.5L843.5 317.5L843.5 314.5L844.5 321.5L844.5 322.5L845.5 321.5L845.5 319.5L845.5 325.5L846.5 320.5L846.5 314.5L847.5 308.5L847.5 313.5L847.5 312.5L848.5 315.5L848.5 318.5L848.5 315.5L849.5 314.5L849.5 316.5L849.5 314.5L850.5 311.5L850.5 316.5L850.5 312.5L851.5 310.5L851.5 294.5L851.5 295.5L851.5 278.5L852.5 269.5L852.5 262.5L852.5 249.5L852.5 247.5L853.5 230.5L853.5 227.5L853.5 221.5L853.5 219.5L854.5 212.5L854.5 207.5L854.5 205.5L855.5 204.5L855.5 199.5L856.5 199.5L856.5 197.5L856.5 195.5L856.5 191.5L857.5 197.5L857.5 195.5L857.5 185.5L858.5 186.5L858.5 191.5L859.5 192.5L859.5 198.5L859.5 199.5L860.5 205.5L860.5 202.5L860.5 205.5L861.5 210.5L861.5 221.5L861.5 224.5L861.5 230.5L862.5 237.5L862.5 241.5L862.5 254.5L862.5 255.5L862.5 242.5L863.5 249.5L863.5 255.5L863.5 257.5L864.5 262.5L864.5 267.5L864.5 269.5L864.5 270.5L865.5 273.5L865.5 276.5L865.5 278.5L866.5 282.5L866.5 283.5L866.5 285.5L866.5 287.5L867.5 291.5L868.5 293.5L868.5 297.5L868.5 301.5L869.5 303.5L869.5 311.5L869.5 314.5L870.5 317.5L870.5 312.5L871.5 320.5L871.5 317.5L872.5 320.5L872.5 326.5L873.5 320.5L873.5 323.5L873.5 324.5L873.5 323.5L874.5 322.5L875.5 318.5L875.5 315.5L875.5 314.5L876.5 317.5L876.5 310.5L876.5 308.5L877.5 316.5L877.5 319.5L877.5 317.5L878.5 320.5L878.5 324.5L879.5 319.5L879.5 324.5L879.5 325.5L880.5 328.5L880.5 331.5L881.5 319.5L881.5 315.5L882.5 310.5L882.5 305.5L882.5 300.5L882.5 289.5L882.5 284.5L883.5 269.5L883.5 251.5L883.5 249.5L884.5 232.5L884.5 231.5L884.5 234.5L884.5 210.5L884.5 201.5L884.5 202.5L885.5 203.5L885.5 213.5L886.5 215.5L886.5 217.5L886.5 220.5L887.5 225.5L887.5 221.5L888.5 228.5L888.5 225.5L888.5 228.5L888.5 227.5L889.5 229.5L890.5 235.5L890.5 236.5L891.5 237.5L892.5 241.5L893.5 241.5L893.5 242.5L893.5 243.5L893.5 242.5L894.5 244.5L895.5 244.5L895.5 243.5L895.5 245.5L895.5 244.5L896.5 245.5L897.5 246.5L896.5 241.5L897.5 246.5L898.5 244.5L898.5 242.5L899.5 245.5L899.5 246.5L899.5 245.5L900.5 244.5L900.5 246.5L901.5 246.5L902.5 244.5L902.5 251.5L902.5 249.5L903.5 248.5L903.5 250.5L904.5 251.5L904.5 250.5L904.5 255.5L905.5 257.5L905.5 261.5L906.5 263.5L906.5 265.5L906.5 270.5L907.5 275.5L908.5 279.5L908.5 285.5L908.5 287.5L909.5 288.5L908.5 292.5L909.5 294.5L909.5 296.5L910.5 298.5L911.5 298.5L911.5 291.5L911.5 288.5L912.5 287.5L912.5 284.5L912.5 274.5L912.5 269.5L913.5 263.5L913.5 255.5L913.5 249.5L914.5 243.5L914.5 235.5L914.5 243.5L914.5 237.5L914.5 232.5L915.5 238.5L915.5 231.5L916.5 230.5L917.5 230.5L917.5 231.5L917.5 229.5L917.5 231.5L918.5 234.5L918.5 230.5L918.5 228.5L919.5 237.5L919.5 233.5L919.5 238.5L920.5 242.5L920.5 249.5L920.5 247.5L920.5 245.5L921.5 251.5L921.5 258.5L921.5 259.5L921.5 263.5L922.5 268.5L922.5 271.5L923.5 278.5L923.5 277.5L923.5 280.5L923.5 283.5L924.5 286.5L924.5 287.5L924.5 289.5L925.5 292.5L925.5 293.5L926.5 294.5L926.5 296.5L926.5 299.5L926.5 305.5L926.5 310.5L927.5 309.5L928.5 311.5L928.5 312.5L928.5 314.5L929.5 317.5L929.5 319.5L930.5 321.5L930.5 324.5L930.5 323.5L931.5 327.5L931.5 329.5L931.5 332.5L931.5 337.5L932.5 341.5L933.5 341.5L933.5 343.5L933.5 346.5L933.5 349.5L934.5 353.5L934.5 356.5L935.5 358.5L935.5 357.5L936.5 359.5L936.5 360.5L936.5 361.5L937.5 363.5L937.5 364.5L938.5 364.5L937.5 365.5L938.5 365.5L938.5 364.5L939.5 366.5L940.5 368.5L940.5 372.5L940.5 371.5L941.5 365.5L941.5 359.5L941.5 356.5L941.5 339.5L941.5 335.5L942.5 315.5L942.5 311.5L942.5 299.5L943.5 289.5L943.5 283.5L943.5 270.5L943.5 263.5L944.5 260.5L944.5 251.5L945.5 242.5L945.5 241.5L945.5 240.5L945.5 237.5L945.5 235.5L946.5 232.5L946.5 229.5L947.5 226.5L947.5 225.5L947.5 223.5L948.5 224.5L948.5 217.5L948.5 218.5L949.5 215.5L949.5 214.5L949.5 212.5L949.5 217.5L950.5 218.5L950.5 219.5L951.5 224.5L951.5 236.5L951.5 237.5L952.5 239.5L951.5 244.5L952.5 248.5L952.5 242.5L952.5 259.5L952.5 261.5L952.5 274.5L953.5 279.5L953.5 288.5L953.5 295.5L953.5 299.5L954.5 301.5L954.5 302.5L954.5 309.5L955.5 319.5L955.5 323.5L956.5 328.5L956.5 331.5L957.5 334.5L957.5 335.5L957.5 341.5L958.5 341.5L958.5 339.5L959.5 348.5L959.5 349.5L959.5 351.5L959.5 353.5L960.5 357.5" stroke="#ff6600" stroke-width="1" fill="none" stroke-linejoin="round" shape-rendering="crispEdges"/>
<path d="M112 193.5h3M113.5 192v3M112 198.5h3M112 199.5h3M113 197.5h1M112 200.5h3M112 201.5h3M113 199.5h1M113 193.5h4M114.5 192v3M112 197.5h3M112 198.5h3M113 196.5h1M113 198.5h3M113 199.5h3M114 197.5h1M113 197.5h3M113 198.5h3M114 196.5h1M113 194.5h3M113 195.5h3M114 193.5h1M114 196.5h3M114 197.5h3M115 195.5h1M114 199.5h3M114 200.5h3M115 198.5h1M114 198.5h3M114 199.5h3M115 197.5h1M115 203.5h3M115 204.5h3M116 202.5h1M115 205.5h3M115 206.5h3M116 204.5h1M115 207.5h3M115 208.5h3M116 206.5h1M116 210.5h3M116 211.5h3M117 209.5h1M116 211.5h3M116 212.5h3M117 210.5h1M117 217.5h3M117 218.5h3M118 216.5h1M117 218.5h3M117 219.5h3M118 217.5h1M117 222.5h3M117 223.5h3M118 221.5h1M118 225.5h3M118 226.5h3M119 224.5h1M118 226.5h3M118 227.5h3M119 225.5h1M118 227.5h3M118 228.5h3M119 226.5h1M118 231.5h3M118 232.5h3M119 230.5h1M118 230.5h3M118 231.5h3M119 229.5h1M119 231.5h3M119 232.5h3M120 230.5h1M119 230.5h3M119 231.5h3M120 229.5h1M120 229.5h3M120 230.5h3M121 228.5h1M121 228.5h3M121 229.5h3M122 227.5h1M121 230.5h3M121 231.5h3M122 229.5h1M121 226.5h3M121 227.5h3M122 225.5h1M122 226.5h3M122 227.5h3M123 225.5h1M123 226.5h3M123 227.5h3M124 225.5h1M122 229.5h3M122 230.5h3M123 228.5h1M123 225.5h3M123 226.5h3M124 224.5h1M124 224.5h3M124 225.5h3M125 223.5h1M124 223.5h3M124 224.5h3M125 222.5h1M125 218.5h3M125 219.5h3M126 217.5h1M125 217.5h3M125 218.5h3M126 216.5h1M125 212.5h3M125 213.5h3M126 211.5h1M125 210.5h3M125 211.5h3M126 209.5h1M126 209.5h3M126 210.5h3M127 208.5h1M127 214.5h3M127 215.5h3M128 213.5h1M127 213.5h3M127 214.5h3M128 212.5h1M128 218.5h4M129.5 217v3M128 214.5h3M128 215.5h3M129 213.5h1M128 215.5h3M128 216.5h3M129 214.5h1M129 215.5h3M129 216.5h3M130 214.5h1M129 216.5h3M129 217.5h3M130 215.5h1M130 217.5h3M130 218.5h3M131 216.5h1M131 219.5h3M131 220.5h3M132 218.5h1M130 216.5h3M130 217.5h3M131 215.5h1M131 218.5h3M131 219.5h3M132 217.5h1M132 219.5h3M132 220.5h3M133 218.5h1M132 222.5h3M132 223.5h3M133 221.5h1M133 219.5h3M133 220.5h3M134 218.5h1M133 221.5h3M133 222.5h3M134 220.5h1M134 222.5h3M134 223.5h3M135 221.5h1M134 223.5h3M134 224.5h3M135 222.5h1M135 221.5h3M135 222.5h3M136 220.5h1M136 222.5h3M136 223.5h3M137 221.5h1M136 223.5h3M136 224.5h3M137 222.5h1M137 225.5h3M137 226.5h3M138 224.5h1M137 223.5h3M137 224.5h3M138 222.5h1M137 226.5h3M137 227.5h3M138 225.5h1M138 226.5h3M138 227.5h3M139 225.5h1M138 225.5h3M138 226.5h3M139 224.5h1M139 225.5h3M139 226.5h3M140 224.5h1M139 222.5h3M139 223.5h3M140 221.5h1M140 218.5h3M140 219.5h3M141 217.5h1M140 221.5h3M140 222.5h3M141 220.5h1M140 226.5h3M140 227.5h3M141 225.5h1M141 227.5h3M141 228.5h3M142 226.5h1M141 228.5h3M141 229.5h3M142 227.5h1M141 229.5h3M141 230.5h3M142 228.5h1M142 231.5h3M142 232.5h3M143 230.5h1M142 232.5h3M142 233.5h3M143 231.5h1M142 229.5h3M142 230.5h3M143 228.5h1M143 231.5h3M143 232.5h3M144 230.5h1M143 232.5h3M143 233.5h3M144 231.5h1M144 235.5h3M144 236.5h3M145 234.5h1M144 233.5h3M144 234.5h3M145 232.5h1M144 230.5h3M144 231.5h3M145 229.5h1M145 233.5h3M145 234.5h3M146 232.5h1M146 231.5h3M146 232.5h3M147 230.5h1M146 229.5h3M146 230.5h3M147 228.5h1M146 228.5h3M146 229.5h3M147 227.5h1M147 228.5h3M147 229.5h3M148 227.5h1M147 229.5h3M147 230.5h3M148 228.5h1M148 230.5h3M148 231.5h3M149 229.5h1M149 229.5h3M149 230.5h3M150 228.5h1M149 226.5h3M149 227.5h3M150 225.5h1M149 227.5h3M149 228.5h3M150 226.5h1M150 227.5h3M150 228.5h3M151 226.5h1M151 228.5h3M151 229.5h3M152 227.5h1M151 224.5h3M151 225.5h3M152 223.5h1M152 226.5h3M152 227.5h3M153 225.5h1M152 224.5h3M152 225.5h3M153 223.5h1M152 225.5h3M152 226.5h3M153 224.5h1M152 223.5h3M152 224.5h3M153 222.5h1M153 221.5h3M153 222.5h3M154 220.5h1M154 215.5h3M154 216.5h3M155 214.5h1M154 214.5h3M154 215.5h3M155 213.5h1M154 212.5h3M154 213.5h3M155 211.5h1M154 211.5h3M154 212.5h3M155 210.5h1M155 209.5h3M155 210.5h3M156 208.5h1M156 208.5h3M156 209.5h3M157 207.5h1M156 206.5h3M156 207.5h3M157 205.5h1M156 203.5h3M156 204.5h3M157 202.5h1M157 207.5h3M157 208.5h3M158 206.5h1M157 205.5h3M157 206.5h3M158 204.5h1M158 207.5h3M158 208.5h3M159 206.5h1M159 203.5h3M159 204.5h3M160 202.5h1M159 205.5h3M159 206.5h3M160 204.5h1M161 204.5h3M161 205.5h3M162 203.5h1M161 206.5h3M161 207.5h3M162 205.5h1M161 203.5h3M161 204.5h3M162 202.5h1M162 204.5h3M162 205.5h3M163 203.5h1M162 205.5h3M162 206.5h3M163 204.5h1M163 207.5h3M163 208.5h3M164 206.5h1M163 206.5h3M163 207.5h3M164 205.5h1M164 209.5h3M164 210.5h3M165 208.5h1M164 211.5h3M164 212.5h3M165 210.5h1M165 210.5h3M165 211.5h3M166 209.5h1M165 212.5h3M165 213.5h3M166 211.5h1M165 211.5h3M165 212.5h3M166 210.5h1M166 212.5h3M166 213.5h3M167 211.5h1M167 212.5h3M167 213.5h3M168 211.5h1M168 213.5h3M168 214.5h3M169 212.5h1M168 212.5h3M168 213.5h3M169 211.5h1M169 216.5h3M169 217.5h3M170 215.5h1M169 213.5h3M169 214.5h3M170 212.5h1M170 209.5h4M171.5 208v3M170 213.5h3M170 214.5h3M171 212.5h1M171 216.5h3M171 217.5h3M172 215.5h1M171 215.5h3M171 216.5h3M172 214.5h1M171 218.5h3M171 219.5h3M172 217.5h1M172 217.5h3M172 218.5h3M173 216.5h1M172 220.5h3M172 221.5h3M173 219.5h1M172 212.5h3M173.5 211v3M173 218.5h4M174.5 217v3M173 210.5h3M173 211.5h3M174 209.5h1M173 211.5h3M173 212.5h3M174 210.5h1M173 212.5h3M173 213.5h3M174 211.5h1M174 215.5h3M174 216.5h3M175 214.5h1M174 216.5h3M174 217.5h3M175 215.5h1M175 213.5h3M175 214.5h3M176 212.5h1M175 216.5h3M175 217.5h3M176 215.5h1M175 214.5h3M175 215.5h3M176 213.5h1M176 219.5h3M176 220.5h3M177 218.5h1M177 218.5h3M177 219.5h3M178 217.5h1M177 215.5h3M177 216.5h3M178 214.5h1M178 219.5h3M178 220.5h3M179 218.5h1M178 218.5h3M178 219.5h3M179 217.5h1M178 220.5h3M178 221.5h3M179 219.5h1M179 221.5h3M179 222.5h3M180 220.5h1M180 220.5h3M180 221.5h3M181 219.5h1M181 220.5h3M181 221.5h3M182 219.5h1M181 221.5h3M181 222.5h3M182 220.5h1M182 221.5h3M182 222.5h3M183 220.5h1M182 220.5h3M182 221.5h3M183 219.5h1M183 222.5h3M183 223.5h3M184 221.5h1M183 219.5h3M183 220.5h3M184 218.5h1M184 220.5h3M184 221.5h3M185 219.5h1M185 216.5h3M185 217.5h3M186 215.5h1M185 213.5h3M185 214.5h3M186 212.5h1M186 209.5h3M186 210.5h3M187 208.5h1M186 207.5h3M186 208.5h3M187 206.5h1M186 202.5h4M187.5 201v3M186 197.5h3M186 198.5h3M187 196.5h1M187 196.5h3M187 197.5h3M188 195.5h1M187 192.5h3M187 193.5h3M188 191.5h1M187 191.5h3M187 192.5h3M188 190.5h1M188 193.5h3M188 194.5h3M189 192.5h1M188 194.5h3M188 195.5h3M189 193.5h1M188 195.5h3M188 196.5h3M189 194.5h1M189 196.5h3M189 197.5h3M190 195.5h1M190 199.5h3M190 200.5h3M191 198.5h1M190 200.5h3M190 201.5h3M191 199.5h1M191 202.5h3M191 203.5h3M192 201.5h1M191 200.5h3M191 201.5h3M192 199.5h1M192 202.5h3M192 203.5h3M193 201.5h1M192 200.5h3M192 201.5h3M193 199.5h1M192 204.5h3M192 205.5h3M193 203.5h1M193 203.5h3M193 204.5h3M194 202.5h1M194 206.5h3M194 207.5h3M195 205.5h1M194 205.5h3M194 206.5h3M195 204.5h1M195 207.5h3M195 208.5h3M196 206.5h1M194 207.5h3M194 208.5h3M195 206.5h1M194 209.5h3M194 210.5h3M195 208.5h1M195 209.5h3M195 210.5h3M196 208.5h1M196 210.5h3M196 211.5h3M197 209.5h1M196 211.5h3M196 212.5h3M197 210.5h1M197 213.5h3M197 214.5h3M198 212.5h1M197 212.5h3M197 213.5h3M198 211.5h1M198 211.5h3M198 212.5h3M199 210.5h1M198 213.5h3M198 214.5h3M199 212.5h1M198 214.5h3M198 215.5h3M199 213.5h1M199 213.5h3M199 214.5h3M200 212.5h1M200 215.5h3M200 216.5h3M201 214.5h1M200 214.5h3M200 215.5h3M201 213.5h1M200 216.5h3M200 217.5h3M201 215.5h1M201 218.5h3M201 219.5h3M202 217.5h1M201 217.5h3M201 218.5h3M202 216.5h1M202 220.5h3M202 221.5h3M203 219.5h1M202 221.5h3M202 222.5h3M203 220.5h1M203 222.5h3M203 223.5h3M204 221.5h1M203 223.5h3M203 224.5h3M204 222.5h1M203 221.5h3M203 222.5h3M204 220.5h1M204 217.5h3M204 218.5h3M205 216.5h1M204 220.5h3M204 221.5h3M205 219.5h1M205 222.5h3M205 223.5h3M206 221.5h1M205 219.5h3M205 220.5h3M206 218.5h1M206 223.5h3M206 224.5h3M207 222.5h1M206 224.5h3M206 225.5h3M207 223.5h1M207 217.5h3M208.5 216v3M207 222.5h3M207 223.5h3M208 221.5h1M208 221.5h3M208 222.5h3M209 220.5h1M208 225.5h4M209.5 224v3M209 219.5h3M210.5 218v3M209 224.5h3M209 225.5h3M210 223.5h1M209 222.5h3M209 223.5h3M210 221.5h1M210 224.5h3M210 225.5h3M211 223.5h1M210 225.5h3M210 226.5h3M211 224.5h1M211 223.5h3M211 224.5h3M212 222.5h1M212 224.5h3M212 225.5h3M213 223.5h1M211 225.5h3M211 226.5h3M212 224.5h1M212 227.5h3M212 228.5h3M213 226.5h1M213 227.5h3M213 228.5h3M214 226.5h1M213 231.5h3M213 232.5h3M214 230.5h1M213 229.5h3M213 230.5h3M214 228.5h1M214 232.5h3M214 233.5h3M215 231.5h1M214 235.5h3M214 236.5h3M215 234.5h1M215 234.5h3M215 235.5h3M216 233.5h1M215 230.5h3M215 231.5h3M216 229.5h1M216 227.5h3M216 228.5h3M217 226.5h1M216 226.5h3M216 227.5h3M217 225.5h1M216 199.5h4M217.5 198v3M216 194.5h3M217.5 193v3M216 175.5h4M217.5 174v3M217 170.5h3M218.5 169v3M217 161.5h3M217 162.5h3M218 160.5h1M217 160.5h3M217 161.5h3M218 159.5h1M217 153.5h4M218.5 152v3M218 149.5h3M218 150.5h3M219 148.5h1M217 149.5h3M217 150.5h3M218 148.5h1M218 144.5h3M218 145.5h3M219 143.5h1M218 143.5h3M218 144.5h3M219 142.5h1M219 141.5h3M219 142.5h3M220 140.5h1M219 133.5h3M219 134.5h3M220 132.5h1M219 132.5h3M219 133.5h3M220 131.5h1M220 132.5h3M220 133.5h3M221 131.5h1M220 126.5h4M221.5 125v3M220 131.5h3M221.5 130v3M221 135.5h3M221 136.5h3M222 134.5h1M221 137.5h3M221 138.5h3M222 136.5h1M221 142.5h3M221 143.5h3M222 141.5h1M221 143.5h3M221 144.5h3M222 142.5h1M222 147.5h3M222 148.5h3M223 146.5h1M222 146.5h3M222 147.5h3M223 145.5h1M222 148.5h3M222 149.5h3M223 147.5h1M223 148.5h3M223 149.5h3M224 147.5h1M223 151.5h3M223 152.5h3M224 150.5h1M223 155.5h3M223 156.5h3M224 154.5h1M223 157.5h3M223 158.5h3M224 156.5h1M223 161.5h3M223 162.5h3M224 160.5h1M224 164.5h3M224 165.5h3M225 163.5h1M224 167.5h3M224 168.5h3M225 166.5h1M224 177.5h4M225.5 176v3M225 183.5h3M226.5 182v3M225 196.5h4M226.5 195v3M225 201.5h3M225 202.5h3M226 200.5h1M225 204.5h3M225 205.5h3M226 203.5h1M225 205.5h3M225 206.5h3M226 204.5h1M225 213.5h4M226.5 212v3M226 226.5h3M226 227.5h3M227 225.5h1M226 227.5h3M226 228.5h3M227 226.5h1M226 231.5h3M227.5 230v3M227 238.5h3M227 239.5h3M228 237.5h1M227 239.5h3M227 240.5h3M228 238.5h1M227 241.5h3M227 242.5h3M228 240.5h1M228 247.5h3M228 248.5h3M229 246.5h1M229 247.5h3M229 248.5h3M230 246.5h1M228 245.5h3M228 246.5h3M229 244.5h1M229 245.5h3M229 246.5h3M230 244.5h1M230 255.5h3M231.5 254v3M230 251.5h3M230 252.5h3M231 250.5h1M230 254.5h3M230 255.5h3M231 253.5h1M231 254.5h3M231 255.5h3M232 253.5h1M231 255.5h3M231 256.5h3M232 254.5h1M231 257.5h3M231 258.5h3M232 256.5h1M232 261.5h3M232 262.5h3M233 260.5h1M232 264.5h3M232 265.5h3M233 263.5h1M233 261.5h3M233 262.5h3M234 260.5h1M233 267.5h3M233 268.5h3M234 266.5h1M234 264.5h3M234 265.5h3M235 263.5h1M234 270.5h3M234 271.5h3M235 269.5h1M234 267.5h3M234 268.5h3M235 266.5h1M234 269.5h3M234 270.5h3M235 268.5h1M235 269.5h3M235 270.5h3M236 268.5h1M235 270.5h3M235 271.5h3M236 269.5h1M236 274.5h3M236 275.5h3M237 273.5h1M236 275.5h3M236 276.5h3M237 274.5h1M237 272.5h3M237 273.5h3M238 271.5h1M238 277.5h3M239.5 276v3M238 281.5h3M238 282.5h3M239 280.5h1M238 279.5h3M238 280.5h3M239 278.5h1M238 280.5h3M238 281.5h3M239 279.5h1M239 282.5h3M239 283.5h3M240 281.5h1M239 283.5h3M239 284.5h3M240 282.5h1M240 287.5h3M240 288.5h3M241 286.5h1M240 285.5h3M240 286.5h3M241 284.5h1M240 286.5h3M240 287.5h3M241 285.5h1M241 288.5h3M241 289.5h3M242 287.5h1M241 287.5h3M241 288.5h3M242 286.5h1M242 290.5h3M242 291.5h3M243 289.5h1M242 287.5h3M242 288.5h3M243 286.5h1M242 288.5h3M242 289.5h3M243 287.5h1M243 290.5h3M243 291.5h3M244 289.5h1M243 289.5h3M243 290.5h3M244 288.5h1M243 291.5h3M243 292.5h3M244 290.5h1M244 286.5h3M244 287.5h3M245 285.5h1M244 285.5h3M244 286.5h3M245 284.5h1M245 286.5h3M245 287.5h3M246 285.5h1M245 285.5h3M245 286.5h3M246 284.5h1M245 281.5h3M246.5 280v3M246 275.5h4M247.5 274v3M246 269.5h3M247.5 268v3M246 260.5h4M247.5 259v3M247 249.5h3M248.5 248v3M247 235.5h3M247 236.5h3M248 234.5h1M246 234.5h3M246 235.5h3M247 233.5h1M247 231.5h3M247 232.5h3M248 230.5h1M248 233.5h3M248 234.5h3M249 232.5h1M248 231.5h3M248 232.5h3M249 230.5h1M248 229.5h3M248 230.5h3M249 228.5h1M249 227.5h3M249 228.5h3M250 226.5h1M249 220.5h3M249 221.5h3M250 219.5h1M249 219.5h3M249 220.5h3M250 218.5h1M250 214.5h3M250 215.5h3M251 213.5h1M250 211.5h3M250 212.5h3M251 210.5h1M250 212.5h3M250 213.5h3M251 211.5h1M251 211.5h3M251 212.5h3M252 210.5h1M251 215.5h3M251 216.5h3M252 214.5h1M251 216.5h3M251 217.5h3M252 215.5h1M252 217.5h3M252 218.5h3M253 216.5h1M252 221.5h3M252 222.5h3M253 220.5h1M252 218.5h3M252 219.5h3M253 217.5h1M253 223.5h3M253 224.5h3M254 222.5h1M253 222.5h3M253 223.5h3M254 221.5h1M253 224.5h3M253 225.5h3M254 223.5h1M254 224.5h3M254 225.5h3M255 223.5h1M254 225.5h3M254 226.5h3M255 224.5h1M254 226.5h3M254 227.5h3M255 225.5h1M255 223.5h3M255 224.5h3M256 222.5h1M256 227.5h3M256 228.5h3M257 226.5h1M256 226.5h3M256 227.5h3M257 225.5h1M256 228.5h3M256 229.5h3M257 227.5h1M257 228.5h3M257 229.5h3M258 227.5h1M257 229.5h3M257 230.5h3M258 228.5h1M258 230.5h3M258 231.5h3M259 229.5h1M258 231.5h3M258 232.5h3M259 230.5h1M259 236.5h4M260.5 235v3M258 240.5h3M258 241.5h3M259 239.5h1M259 243.5h3M259 244.5h3M260 242.5h1M259 240.5h3M259 241.5h3M260 239.5h1M259 246.5h3M259 247.5h3M260 245.5h1M260 244.5h3M260 245.5h3M261 243.5h1M260 241.5h3M260 242.5h3M261 240.5h1M261 243.5h3M261 244.5h3M262 242.5h1M261 248.5h4M262.5 247v3M262 240.5h3M262 241.5h3M263 239.5h1M262 237.5h3M262 238.5h3M263 236.5h1M263 237.5h3M263 238.5h3M264 236.5h1M263 245.5h4M264.5 244v3M263 251.5h3M263 252.5h3M264 250.5h1M263 249.5h3M263 250.5h3M264 248.5h1M264 253.5h3M264 254.5h3M265 252.5h1M264 254.5h3M264 255.5h3M265 253.5h1M264 255.5h3M264 256.5h3M265 254.5h1M264 258.5h3M264 259.5h3M265 257.5h1M264 259.5h3M264 260.5h3M265 258.5h1M265 258.5h3M265 259.5h3M266 257.5h1M266 265.5h3M267.5 264v3M266 269.5h4M267.5 268v3M266 267.5h3M266 268.5h3M267 266.5h1M267 271.5h3M267 272.5h3M268 270.5h1M267 269.5h3M267 270.5h3M268 268.5h1M268 271.5h3M268 272.5h3M269 270.5h1M268 275.5h3M268 276.5h3M269 274.5h1M268 277.5h3M268 278.5h3M269 276.5h1M269 277.5h3M269 278.5h3M270 276.5h1M270 281.5h3M270 282.5h3M271 280.5h1M270 282.5h3M270 283.5h3M271 281.5h1M271 279.5h3M271 280.5h3M272 278.5h1M271 281.5h3M271 282.5h3M272 280.5h1M272 284.5h3M272 285.5h3M273 283.5h1M272 283.5h3M272 284.5h3M273 282.5h1M272 285.5h3M272 286.5h3M273 284.5h1M272 288.5h3M272 289.5h3M273 287.5h1M273 288.5h3M273 289.5h3M274 287.5h1M273 285.5h3M273 286.5h3M274 284.5h1M273 292.5h3M274.5 291v3M274 288.5h3M274 289.5h3M275 287.5h1M275 285.5h3M275 286.5h3M276 284.5h1M275 280.5h3M275 281.5h3M276 279.5h1M275 279.5h3M275 280.5h3M276 278.5h1M276 275.5h4M277.5 274v3M276 266.5h3M277.5 265v3M276 259.5h3M276 260.5h3M277 258.5h1M276 258.5h3M276 259.5h3M277 257.5h1M277 244.5h4M278.5 243v3M277 240.5h3M278.5 239v3M277 231.5h4M278.5 230v3M277 220.5h3M277 221.5h3M278 219.5h1M277 219.5h3M277 220.5h3M278 218.5h1M278 211.5h3M279.5 210v3M279 207.5h4M280.5 206v3M279 200.5h3M279 201.5h3M280 199.5h1M279 199.5h3M279 200.5h3M280 198.5h1M279 188.5h3M280.5 187v3M279 181.5h4M280.5 180v3M280 182.5h4M281.5 181v3M280 175.5h3M280 176.5h3M281 174.5h1M280 173.5h3M280 174.5h3M281 172.5h1M281 166.5h3M281 167.5h3M282 165.5h1M280 163.5h3M280 164.5h3M281 162.5h1M281 159.5h3M281 160.5h3M282 158.5h1M281 156.5h3M281 157.5h3M282 155.5h1M282 155.5h3M282 156.5h3M283 154.5h1M282 154.5h3M282 155.5h3M283 153.5h1M282 150.5h3M282 151.5h3M283 149.5h1M282 148.5h3M282 149.5h3M283 147.5h1M283 148.5h3M283 149.5h3M284 147.5h1M284 149.5h3M284 150.5h3M285 148.5h1M284 154.5h3M284 155.5h3M285 153.5h1M284 155.5h3M284 156.5h3M285 154.5h1M284 163.5h3M284 164.5h3M285 162.5h1M284 164.5h3M284 165.5h3M285 163.5h1M285 183.5h4M286.5 182v3M285 190.5h3M286.5 189v3M285 196.5h3M285 197.5h3M286 195.5h1M285 198.5h3M285 199.5h3M286 197.5h1M286 217.5h4M287.5 216v3M286 229.5h3M287.5 228v3M286 233.5h3M286 234.5h3M287 232.5h1M286 236.5h3M286 237.5h3M287 235.5h1M287 246.5h3M287 247.5h3M288 245.5h1M287 245.5h3M287 246.5h3M288 244.5h1M287 249.5h3M287 250.5h3M288 248.5h1M288 246.5h3M288 247.5h3M289 245.5h1M289 241.5h3M289 242.5h3M290 240.5h1M289 244.5h3M289 245.5h3M290 243.5h1M290 239.5h4M291.5 238v3M291 233.5h3M292.5 232v3M290 229.5h4M291.5 228v3M291 234.5h3M292.5 233v3M291 240.5h3M291 241.5h3M292 239.5h1M292 243.5h3M292 244.5h3M293 242.5h1M292 239.5h4M293.5 238v3M292 246.5h3M293.5 245v3M292 250.5h4M293.5 249v3M293 246.5h3M294.5 245v3M293 251.5h3M293 252.5h3M294 250.5h1M293 248.5h3M293 249.5h3M294 247.5h1M294 249.5h3M294 250.5h3M295 248.5h1M294 251.5h3M294 252.5h3M295 250.5h1M295 253.5h3M295 254.5h3M296 252.5h1M295 252.5h3M295 253.5h3M296 251.5h1M295 249.5h3M295 250.5h3M296 248.5h1M296 250.5h3M296 251.5h3M297 249.5h1M296 246.5h3M296 247.5h3M297 245.5h1M296 247.5h3M296 248.5h3M297 246.5h1M297 246.5h3M297 247.5h3M298 245.5h1M297 251.5h3M297 252.5h3M298 250.5h1M298 249.5h3M298 250.5h3M299 248.5h1M298 254.5h3M298 255.5h3M299 253.5h1M298 253.5h3M298 254.5h3M299 252.5h1M299 253.5h3M299 254.5h3M300 252.5h1M299 254.5h3M299 255.5h3M300 253.5h1M300 254.5h3M300 255.5h3M301 253.5h1M300 255.5h3M300 256.5h3M301 254.5h1M301 256.5h3M301 257.5h3M302 255.5h1M301 255.5h3M301 256.5h3M302 254.5h1M302 256.5h3M302 257.5h3M303 255.5h1M302 257.5h3M302 258.5h3M303 256.5h1M303 258.5h3M303 259.5h3M304 257.5h1M304 259.5h3M304 260.5h3M305 258.5h1M305 257.5h3M305 258.5h3M306 256.5h1M305 256.5h3M305 257.5h3M306 255.5h1M305 254.5h3M305 255.5h3M306 253.5h1M306 252.5h3M306 253.5h3M307 251.5h1M306 249.5h3M306 250.5h3M307 248.5h1M306 243.5h4M307.5 242v3M307 237.5h3M308.5 236v3M307 233.5h3M307 234.5h3M308 232.5h1M307 230.5h3M307 231.5h3M308 229.5h1M308 220.5h4M309.5 219v3M308 213.5h3M308 214.5h3M309 212.5h1M308 215.5h3M308 216.5h3M309 214.5h1M309 227.5h3M309 228.5h3M310 226.5h1M310 225.5h3M310 226.5h3M311 224.5h1M310 228.5h3M310 229.5h3M311 227.5h1M311 227.5h3M311 228.5h3M312 226.5h1M311 226.5h3M311 227.5h3M312 225.5h1M312 223.5h3M312 224.5h3M313 222.5h1M313 224.5h3M313 225.5h3M314 223.5h1M313 221.5h3M313 222.5h3M314 220.5h1M314 216.5h4M315.5 215v3M314 206.5h3M315.5 205v3M314 211.5h4M315.5 210v3M315 219.5h3M315 220.5h3M316 218.5h1M315 221.5h3M315 222.5h3M316 220.5h1M315 224.5h3M315 225.5h3M316 223.5h1M316 227.5h3M316 228.5h3M317 226.5h1M316 231.5h3M316 232.5h3M317 230.5h1M316 233.5h3M316 234.5h3M317 232.5h1M316 235.5h3M316 236.5h3M317 234.5h1M317 238.5h3M317 239.5h3M318 237.5h1M317 239.5h3M317 240.5h3M318 238.5h1M317 242.5h3M317 243.5h3M318 241.5h1M317 246.5h3M317 247.5h3M318 245.5h1M318 249.5h3M318 250.5h3M319 248.5h1M318 245.5h3M318 246.5h3M319 244.5h1M319 248.5h3M319 249.5h3M320 247.5h1M319 247.5h3M319 248.5h3M320 246.5h1M319 243.5h3M319 244.5h3M320 242.5h1M320 246.5h3M320 247.5h3M321 245.5h1M321 247.5h3M321 248.5h3M322 246.5h1M321 246.5h3M321 247.5h3M322 245.5h1M321 243.5h3M321 244.5h3M322 242.5h1M322 244.5h3M322 245.5h3M323 243.5h1M323 245.5h3M323 246.5h3M324 244.5h1M323 242.5h3M323 243.5h3M324 241.5h1M324 239.5h3M324 240.5h3M325 238.5h1M324 244.5h3M325.5 243v3M324 238.5h3M324 239.5h3M325 237.5h1M325 240.5h3M325 241.5h3M326 239.5h1M325 239.5h3M325 240.5h3M326 238.5h1M326 241.5h3M326 242.5h3M327 240.5h1M326 242.5h3M326 243.5h3M327 241.5h1M327 240.5h3M327 241.5h3M328 239.5h1M327 238.5h3M327 239.5h3M328 237.5h1M328 241.5h3M328 242.5h3M329 240.5h1M328 240.5h3M328 241.5h3M329 239.5h1M329 241.5h3M329 242.5h3M330 240.5h1M330 240.5h3M330 241.5h3M331 239.5h1M330 238.5h3M330 239.5h3M331 237.5h1M330 241.5h3M330 242.5h3M331 240.5h1M331 239.5h3M331 240.5h3M332 238.5h1M331 241.5h3M331 242.5h3M332 240.5h1M331 243.5h3M331 244.5h3M332 242.5h1M332 242.5h3M332 243.5h3M333 241.5h1M333 242.5h3M333 243.5h3M334 241.5h1M333 245.5h3M333 246.5h3M334 244.5h1M333 241.5h3M333 242.5h3M334 240.5h1M334 243.5h3M334 244.5h3M335 242.5h1M334 242.5h3M334 243.5h3M335 241.5h1M335 242.5h3M335 243.5h3M336 241.5h1M335 240.5h3M335 241.5h3M336 239.5h1M336 240.5h3M336 241.5h3M337 239.5h1M336 239.5h3M336 240.5h3M337 238.5h1M336 238.5h3M336 239.5h3M337 237.5h1M337 237.5h3M337 238.5h3M338 236.5h1M337 238.5h3M337 239.5h3M338 237.5h1M337 236.5h3M337 237.5h3M338 235.5h1M338 234.5h3M338 235.5h3M339 233.5h1M338 233.5h3M338 234.5h3M339 232.5h1M339 232.5h3M339 233.5h3M340 231.5h1M339 226.5h3M339 227.5h3M340 225.5h1M339 223.5h3M339 224.5h3M340 222.5h1M339 220.5h3M339 221.5h3M340 219.5h1M340 204.5h4M341.5 203v3M340 199.5h3M341.5 198v3M341 184.5h4M342.5 183v3M340 180.5h3M340 181.5h3M341 179.5h1M340 177.5h3M340 178.5h3M341 176.5h1M341 174.5h3M341 175.5h3M342 173.5h1M341 169.5h4M342.5 168v3M341 165.5h3M341 166.5h3M342 164.5h1M342 165.5h3M342 166.5h3M343 164.5h1M342 160.5h3M342 161.5h3M343 159.5h1M342 158.5h3M342 159.5h3M343 157.5h1M343 157.5h3M343 158.5h3M344 156.5h1M343 155.5h3M343 156.5h3M344 154.5h1M344 163.5h3M344 164.5h3M345 162.5h1M344 165.5h3M344 166.5h3M345 164.5h1M345 167.5h3M345 168.5h3M346 166.5h1M345 169.5h3M345 170.5h3M346 168.5h1M345 173.5h3M346.5 172v3M346 184.5h3M346 185.5h3M347 183.5h1M345 185.5h3M345 186.5h3M346 184.5h1M346 196.5h3M346 197.5h3M347 195.5h1M346 199.5h3M346 200.5h3M347 198.5h1M345 204.5h4M346.5 203v3M346 215.5h3M346 216.5h3M347 214.5h1M346 218.5h3M346 219.5h3M347 217.5h1M346 225.5h3M347.5 224v3M347 229.5h3M347 230.5h3M348 228.5h1M347 231.5h3M347 232.5h3M348 230.5h1M348 237.5h4M349.5 236v3M348 243.5h3M349.5 242v3M348 247.5h3M348 248.5h3M349 246.5h1M349 246.5h3M349 247.5h3M350 245.5h1M349 248.5h3M349 249.5h3M350 247.5h1M350 243.5h3M350 244.5h3M351 242.5h1M350 242.5h3M350 243.5h3M351 241.5h1M350 241.5h3M350 242.5h3M351 240.5h1M351 242.5h3M351 243.5h3M352 241.5h1M351 240.5h3M351 241.5h3M352 239.5h1M352 241.5h3M352 242.5h3M353 240.5h1M352 237.5h3M352 238.5h3M353 236.5h1M353 236.5h3M353 237.5h3M354 235.5h1M353 241.5h3M353 242.5h3M354 240.5h1M353 239.5h3M353 240.5h3M354 238.5h1M354 239.5h3M354 240.5h3M355 238.5h1M354 243.5h3M354 244.5h3M355 242.5h1M355 245.5h3M355 246.5h3M356 244.5h1M354 246.5h3M354 247.5h3M355 245.5h1M355 250.5h3M355 251.5h3M356 249.5h1M355 249.5h3M355 250.5h3M356 248.5h1M356 250.5h3M356 251.5h3M357 249.5h1M357 252.5h3M357 253.5h3M358 251.5h1M357 251.5h3M357 252.5h3M358 250.5h1M358 251.5h3M358 252.5h3M359 250.5h1M358 255.5h3M358 256.5h3M359 254.5h1M358 252.5h3M358 253.5h3M359 251.5h1M359 254.5h3M359 255.5h3M360 253.5h1M359 256.5h3M359 257.5h3M360 255.5h1M360 257.5h3M360 258.5h3M361 256.5h1M360 258.5h3M360 259.5h3M361 257.5h1M361 258.5h3M361 259.5h3M362 257.5h1M361 259.5h3M361 260.5h3M362 258.5h1M361 260.5h3M361 261.5h3M362 259.5h1M362 258.5h3M362 259.5h3M363 257.5h1M362 259.5h3M362 260.5h3M363 258.5h1M363 260.5h3M363 261.5h3M364 259.5h1M364 262.5h3M364 263.5h3M365 261.5h1M364 261.5h3M364 262.5h3M365 260.5h1M365 263.5h3M365 264.5h3M366 262.5h1M365 262.5h3M365 263.5h3M366 261.5h1M366 259.5h3M366 260.5h3M367 258.5h1M366 257.5h3M366 258.5h3M367 256.5h1M366 255.5h3M366 256.5h3M367 254.5h1M366 254.5h3M366 255.5h3M367 253.5h1M366 250.5h3M367.5 249v3M367 243.5h4M368.5 242v3M367 239.5h3M368.5 238v3M368 234.5h4M369.5 233v3M368 226.5h3M369.5 225v3M368 219.5h3M368 220.5h3M369 218.5h1M368 217.5h3M368 218.5h3M369 216.5h1M369 208.5h4M370.5 207v3M370 198.5h3M370 199.5h3M371 197.5h1M369 199.5h3M369 200.5h3M370 198.5h1M370 187.5h3M371.5 186v3M370 180.5h4M371.5 179v3M370 176.5h3M370 177.5h3M371 175.5h1M370 175.5h3M370 176.5h3M371 174.5h1M371 170.5h3M372.5 169v3M371 159.5h3M371 160.5h3M372 158.5h1M371 157.5h3M371 158.5h3M372 156.5h1M371 145.5h3M371 146.5h3M372 144.5h1M371 143.5h3M371 144.5h3M372 142.5h1M372 147.5h3M372 148.5h3M373 146.5h1M372 144.5h3M372 145.5h3M373 143.5h1M372 141.5h3M372 142.5h3M373 140.5h1M372 149.5h3M372 150.5h3M373 148.5h1M373 149.5h3M373 150.5h3M374 148.5h1M373 160.5h3M373 161.5h3M374 159.5h1M373 161.5h3M373 162.5h3M374 160.5h1M374 164.5h3M374 165.5h3M375 163.5h1M374 165.5h3M374 166.5h3M375 164.5h1M375 169.5h3M375 170.5h3M376 168.5h1M375 172.5h3M375 173.5h3M376 171.5h1M375 171.5h3M375 172.5h3M376 170.5h1M375 174.5h3M375 175.5h3M376 173.5h1M376 179.5h3M377.5 178v3M376 183.5h3M376 184.5h3M377 182.5h1M377 186.5h3M377 187.5h3M378 185.5h1M377 195.5h3M377 196.5h3M378 194.5h1M377 192.5h3M377 193.5h3M378 191.5h1M378 205.5h4M379.5 204v3M377 209.5h3M377 210.5h3M378 208.5h1M378 212.5h3M378 213.5h3M379 211.5h1M378 217.5h3M379.5 216v3M379 221.5h3M379 222.5h3M380 220.5h1M379 222.5h3M379 223.5h3M380 221.5h1M380 227.5h3M380 228.5h3M381 226.5h1M380 226.5h3M380 227.5h3M381 225.5h1M380 225.5h3M380 226.5h3M381 224.5h1M381 226.5h3M381 227.5h3M382 225.5h1M381 229.5h3M381 230.5h3M382 228.5h1M382 229.5h3M382 230.5h3M383 228.5h1M382 233.5h3M382 234.5h3M383 232.5h1M382 235.5h3M382 236.5h3M383 234.5h1M383 236.5h3M383 237.5h3M384 235.5h1M383 237.5h3M383 238.5h3M384 236.5h1M383 238.5h3M383 239.5h3M384 237.5h1M384 240.5h3M384 241.5h3M385 239.5h1M384 242.5h3M384 243.5h3M385 241.5h1M384 243.5h3M384 244.5h3M385 242.5h1M385 244.5h3M385 245.5h3M386 243.5h1M385 246.5h3M385 247.5h3M386 245.5h1M386 247.5h3M386 248.5h3M387 246.5h1M386 248.5h3M386 249.5h3M387 247.5h1M386 250.5h3M386 251.5h3M387 249.5h1M387 250.5h3M387 251.5h3M388 249.5h1M388 253.5h3M388 254.5h3M389 252.5h1M388 249.5h3M388 250.5h3M389 248.5h1M389 247.5h3M389 248.5h3M390 246.5h1M389 241.5h3M389 242.5h3M390 240.5h1M389 239.5h3M389 240.5h3M390 238.5h1M390 235.5h3M390 236.5h3M391 234.5h1M390 233.5h3M390 234.5h3M391 232.5h1M391 230.5h3M391 231.5h3M392 229.5h1M391 225.5h3M391 226.5h3M392 224.5h1M392 223.5h3M392 224.5h3M393 222.5h1M392 220.5h3M392 221.5h3M393 219.5h1M393 217.5h3M393 218.5h3M394 216.5h1M393 215.5h3M393 216.5h3M394 214.5h1M393 214.5h3M393 215.5h3M394 213.5h1M394 212.5h3M394 213.5h3M395 211.5h1M394 209.5h3M394 210.5h3M395 208.5h1M395 208.5h3M395 209.5h3M396 207.5h1M395 206.5h3M395 207.5h3M396 205.5h1M395 205.5h3M395 206.5h3M396 204.5h1M396 205.5h3M396 206.5h3M397 204.5h1M396 202.5h3M396 203.5h3M397 201.5h1M396 203.5h3M396 204.5h3M397 202.5h1M397 204.5h3M397 205.5h3M398 203.5h1M397 203.5h3M397 204.5h3M398 202.5h1M398 200.5h3M398 201.5h3M399 199.5h1M399 202.5h3M399 203.5h3M400 201.5h1M399 199.5h3M399 200.5h3M400 198.5h1M400 201.5h3M400 202.5h3M401 200.5h1M400 200.5h3M400 201.5h3M401 199.5h1M401 198.5h3M401 199.5h3M402 197.5h1M401 199.5h3M401 200.5h3M402 198.5h1M402 199.5h3M402 200.5h3M403 198.5h1M402 198.5h3M402 199.5h3M403 197.5h1M403 198.5h3M403 199.5h3M404 197.5h1M403 200.5h3M403 201.5h3M404 199.5h1M404 198.5h3M404 199.5h3M405 197.5h1M405 198.5h3M405 199.5h3M406 197.5h1M405 196.5h3M405 197.5h3M406 195.5h1M406 197.5h3M406 198.5h3M407 196.5h1M406 196.5h3M406 197.5h3M407 195.5h1M407 197.5h3M407 198.5h3M408 196.5h1M407 195.5h3M407 196.5h3M408 194.5h1M408 195.5h3M408 196.5h3M409 194.5h1M408 194.5h3M408 195.5h3M409 193.5h1M409 194.5h3M409 195.5h3M410 193.5h1M409 193.5h3M409 194.5h3M410 192.5h1M409 192.5h3M409 193.5h3M410 191.5h1M410 192.5h3M410 193.5h3M411 191.5h1M410 191.5h3M410 192.5h3M411 190.5h1M411 192.5h3M411 193.5h3M412 191.5h1M411 189.5h3M411 190.5h3M412 188.5h1M411 193.5h3M411 194.5h3M412 192.5h1M412 192.5h3M412 193.5h3M413 191.5h1M412 189.5h3M412 190.5h3M413 188.5h1M412 190.5h3M412 191.5h3M413 189.5h1M413 188.5h3M413 189.5h3M414 187.5h1M413 187.5h3M413 188.5h3M414 186.5h1M414 188.5h3M414 189.5h3M415 187.5h1M414 187.5h3M414 188.5h3M415 186.5h1M414 189.5h3M414 190.5h3M415 188.5h1M415 185.5h3M415 186.5h3M416 184.5h1M416 187.5h3M416 188.5h3M417 186.5h1M416 186.5h3M416 187.5h3M417 185.5h1M417 187.5h3M417 188.5h3M418 186.5h1M417 186.5h3M417 187.5h3M418 185.5h1M417 188.5h3M417 189.5h3M418 187.5h1M418 188.5h3M418 189.5h3M419 187.5h1M418 190.5h3M418 191.5h3M419 189.5h1M419 189.5h3M419 190.5h3M420 188.5h1M419 188.5h3M419 189.5h3M420 187.5h1M420 190.5h3M420 191.5h3M421 189.5h1M420 189.5h3M420 190.5h3M421 188.5h1M421 190.5h3M421 191.5h3M422 189.5h1M421 187.5h3M421 188.5h3M422 186.5h1M422 191.5h3M422 192.5h3M423 190.5h1M422 190.5h3M422 191.5h3M423 189.5h1M423 189.5h3M423 190.5h3M424 188.5h1M423 190.5h3M423 191.5h3M424 189.5h1M423 191.5h3M423 192.5h3M424 190.5h1M424 191.5h3M424 192.5h3M425 190.5h1M424 190.5h3M424 191.5h3M425 189.5h1M425 189.5h3M425 190.5h3M426 188.5h1M425 190.5h3M425 191.5h3M426 189.5h1M426 189.5h3M426 190.5h3M427 188.5h1M427 190.5h3M427 191.5h3M428 189.5h1M427 187.5h3M427 188.5h3M428 186.5h1M428 189.5h3M428 190.5h3M429 188.5h1M428 187.5h3M428 188.5h3M429 186.5h1M428 184.5h3M428 185.5h3M429 183.5h1M429 184.5h3M429 185.5h3M430 183.5h1M429 185.5h3M429 186.5h3M430 184.5h1M429 183.5h3M429 184.5h3M430 182.5h1M429 182.5h3M429 183.5h3M430 181.5h1M430 182.5h3M430 183.5h3M431 181.5h1M430 179.5h3M430 180.5h3M431 178.5h1M431 177.5h3M431 178.5h3M432 176.5h1M431 173.5h3M431 174.5h3M432 172.5h1M432 173.5h3M432 174.5h3M433 172.5h1M432 171.5h3M432 172.5h3M433 170.5h1M432 168.5h3M432 169.5h3M433 167.5h1M433 168.5h3M433 169.5h3M434 167.5h1M433 166.5h3M433 167.5h3M434 165.5h1M433 167.5h3M433 168.5h3M434 166.5h1M434 168.5h3M434 169.5h3M435 167.5h1M435 167.5h3M435 168.5h3M436 166.5h1M435 166.5h3M435 167.5h3M436 165.5h1M436 167.5h3M436 168.5h3M437 166.5h1M436 168.5h3M436 169.5h3M437 167.5h1M437 169.5h3M437 170.5h3M438 168.5h1M437 170.5h3M437 171.5h3M438 169.5h1M437 172.5h3M437 173.5h3M438 171.5h1M438 177.5h3M438 178.5h3M439 176.5h1M438 175.5h3M438 176.5h3M439 174.5h1M439 172.5h3M439 173.5h3M440 171.5h1M439 176.5h3M439 177.5h3M440 175.5h1M439 178.5h3M439 179.5h3M440 177.5h1M440 177.5h3M440 178.5h3M441 176.5h1M440 181.5h3M440 182.5h3M441 180.5h1M440 184.5h3M440 185.5h3M441 183.5h1M441 183.5h3M441 184.5h3M442 182.5h1M441 184.5h3M441 185.5h3M442 183.5h1M442 186.5h3M442 187.5h3M443 185.5h1M442 183.5h3M442 184.5h3M443 182.5h1M443 186.5h3M443 187.5h3M444 185.5h1M443 183.5h3M443 184.5h3M444 182.5h1M443 185.5h3M443 186.5h3M444 184.5h1M444 185.5h3M444 186.5h3M445 184.5h1M444 181.5h3M445.5 180v3M445 177.5h3M445 178.5h3M446 176.5h1M445 176.5h3M445 177.5h3M446 175.5h1M445 175.5h3M445 176.5h3M446 174.5h1M446 171.5h3M446 172.5h3M447 170.5h1M446 169.5h3M446 170.5h3M447 168.5h1M447 171.5h3M447 172.5h3M448 170.5h1M447 166.5h3M447 167.5h3M448 165.5h1M447 167.5h3M447 168.5h3M448 166.5h1M448 166.5h3M448 167.5h3M449 165.5h1M448 164.5h3M448 165.5h3M449 163.5h1M449 164.5h3M449 165.5h3M450 163.5h1M449 163.5h3M449 164.5h3M450 162.5h1M450 162.5h3M450 163.5h3M451 161.5h1M450 164.5h3M450 165.5h3M451 163.5h1M451 161.5h3M451 162.5h3M452 160.5h1M451 160.5h3M451 161.5h3M452 159.5h1M452 161.5h3M452 162.5h3M453 160.5h1M452 158.5h3M452 159.5h3M453 157.5h1M453 159.5h3M453 160.5h3M454 158.5h1M453 158.5h3M453 159.5h3M454 157.5h1M453 160.5h3M453 161.5h3M454 159.5h1M453 157.5h3M453 158.5h3M454 156.5h1M454 156.5h3M454 157.5h3M455 155.5h1M454 155.5h3M454 156.5h3M455 154.5h1M455 156.5h3M455 157.5h3M456 155.5h1M456 155.5h3M456 156.5h3M457 154.5h1M456 156.5h3M456 157.5h3M457 155.5h1M457 154.5h3M457 155.5h3M458 153.5h1M457 153.5h3M457 154.5h3M458 152.5h1M457 152.5h3M457 153.5h3M458 151.5h1M458 152.5h3M458 153.5h3M459 151.5h1M458 153.5h3M458 154.5h3M459 152.5h1M459 149.5h3M459 150.5h3M460 148.5h1M459 151.5h3M459 152.5h3M460 150.5h1M460 151.5h3M460 152.5h3M461 150.5h1M461 149.5h3M461 150.5h3M462 148.5h1M461 150.5h3M461 151.5h3M462 149.5h1M461 148.5h3M461 149.5h3M462 147.5h1M462 150.5h3M462 151.5h3M463 149.5h1M462 148.5h3M462 149.5h3M463 147.5h1M463 150.5h3M463 151.5h3M464 149.5h1M463 147.5h3M463 148.5h3M464 146.5h1M463 148.5h3M463 149.5h3M464 147.5h1M464 149.5h3M464 150.5h3M465 148.5h1M465 150.5h3M465 151.5h3M466 149.5h1M465 153.5h3M465 154.5h3M466 152.5h1M466 155.5h3M466 156.5h3M467 154.5h1M466 157.5h3M466 158.5h3M467 156.5h1M467 158.5h3M467 159.5h3M468 157.5h1M467 161.5h3M467 162.5h3M468 160.5h1M467 164.5h3M467 165.5h3M468 163.5h1M467 175.5h3M468.5 174v3M467 184.5h4M468.5 183v3M467 195.5h3M467 196.5h3M468 194.5h1M467 196.5h3M467 197.5h3M468 195.5h1M467 197.5h3M467 198.5h3M468 196.5h1M468 193.5h4M469.5 192v3M469 197.5h3M469 198.5h3M470 196.5h1M469 196.5h3M469 197.5h3M470 195.5h1M469 198.5h3M469 199.5h3M470 197.5h1M470 195.5h3M470 196.5h3M471 194.5h1M470 200.5h3M471.5 199v3M470 196.5h4M471.5 195v3M471 202.5h3M472.5 201v3M471 197.5h3M471 198.5h3M472 196.5h1M472 198.5h3M472 199.5h3M473 197.5h1M472 199.5h3M472 200.5h3M473 198.5h1M473 198.5h3M473 199.5h3M474 197.5h1M473 200.5h3M473 201.5h3M474 199.5h1M474 202.5h3M474 203.5h3M475 201.5h1M475 204.5h3M475 205.5h3M476 203.5h1M474 205.5h3M474 206.5h3M475 204.5h1M475 206.5h3M475 207.5h3M476 205.5h1M475 208.5h3M475 209.5h3M476 207.5h1M475 209.5h3M475 210.5h3M476 208.5h1M476 209.5h3M476 210.5h3M477 208.5h1M477 210.5h3M477 211.5h3M478 209.5h1M477 212.5h3M477 213.5h3M478 211.5h1M478 210.5h3M478 211.5h3M479 209.5h1M478 213.5h3M478 214.5h3M479 212.5h1M478 215.5h3M478 216.5h3M479 214.5h1M479 215.5h3M479 216.5h3M480 214.5h1M479 217.5h3M479 218.5h3M480 216.5h1M479 218.5h3M479 219.5h3M480 217.5h1M480 218.5h3M480 219.5h3M481 217.5h1M480 219.5h3M480 220.5h3M481 218.5h1M481 218.5h3M481 219.5h3M482 217.5h1M481 221.5h3M481 222.5h3M482 220.5h1M481 220.5h3M481 221.5h3M482 219.5h1M482 221.5h3M482 222.5h3M483 220.5h1M482 220.5h3M482 221.5h3M483 219.5h1M483 222.5h3M483 223.5h3M484 221.5h1M483 221.5h3M483 222.5h3M484 220.5h1M484 224.5h3M484 225.5h3M485 223.5h1M484 225.5h3M484 226.5h3M485 224.5h1M485 225.5h3M485 226.5h3M486 224.5h1M486 227.5h3M486 228.5h3M487 226.5h1M486 226.5h3M486 227.5h3M487 225.5h1M487 223.5h3M487 224.5h3M488 222.5h1M487 230.5h3M487 231.5h3M488 229.5h1M488 231.5h3M488 232.5h3M489 230.5h1M488 227.5h3M489.5 226v3M488 225.5h3M488 226.5h3M489 224.5h1M489 226.5h3M489 227.5h3M490 225.5h1M489 224.5h3M489 225.5h3M490 223.5h1M490 223.5h3M490 224.5h3M491 222.5h1M490 220.5h3M490 221.5h3M491 219.5h1M490 225.5h4M491.5 224v3M490 221.5h3M490 222.5h3M491 220.5h1M491 223.5h3M491 224.5h3M492 222.5h1M492 221.5h3M492 222.5h3M493 220.5h1M492 223.5h3M492 224.5h3M493 222.5h1M492 220.5h3M492 221.5h3M493 219.5h1M492 222.5h3M492 223.5h3M493 221.5h1M493 214.5h3M493 215.5h3M494 213.5h1M494 213.5h3M494 214.5h3M495 212.5h1M494 211.5h3M494 212.5h3M495 210.5h1M494 225.5h3M494 226.5h3M495 224.5h1M494 227.5h3M494 228.5h3M495 226.5h1M495 229.5h3M495 230.5h3M496 228.5h1M495 230.5h3M495 231.5h3M496 229.5h1M496 231.5h3M496 232.5h3M497 230.5h1M496 232.5h3M496 233.5h3M497 231.5h1M496 233.5h3M496 234.5h3M497 232.5h1M497 233.5h3M497 234.5h3M498 232.5h1M497 234.5h3M497 235.5h3M498 233.5h1M498 235.5h3M498 236.5h3M499 234.5h1M499 234.5h3M499 235.5h3M500 233.5h1M498 236.5h3M498 237.5h3M499 235.5h1M500 235.5h3M500 236.5h3M501 234.5h1M500 237.5h3M500 238.5h3M501 236.5h1M500 243.5h4M501.5 242v3M501 236.5h3M502.5 235v3M501 241.5h4M502.5 240v3M502 236.5h3M503.5 235v3M502 243.5h4M503.5 242v3M503 238.5h3M503 239.5h3M504 237.5h1M503 239.5h3M503 240.5h3M504 238.5h1M504 238.5h3M504 239.5h3M505 237.5h1M504 239.5h3M504 240.5h3M505 238.5h1M505 237.5h3M505 238.5h3M506 236.5h1M505 234.5h3M505 235.5h3M506 233.5h1M505 233.5h3M505 234.5h3M506 232.5h1M506 232.5h3M506 233.5h3M507 231.5h1M506 238.5h3M506 239.5h3M507 237.5h1M507 238.5h3M507 239.5h3M508 237.5h1M507 237.5h3M507 238.5h3M508 236.5h1M508 239.5h3M508 240.5h3M509 238.5h1M508 235.5h3M508 236.5h3M509 234.5h1M509 233.5h3M509 234.5h3M510 232.5h1M509 237.5h4M510.5 236v3M510 232.5h3M511.5 231v3M510 236.5h3M510 237.5h3M511 235.5h1M510 237.5h3M510 238.5h3M511 236.5h1M511 233.5h3M511 234.5h3M512 232.5h1M512 233.5h3M512 234.5h3M513 232.5h1M512 235.5h3M512 236.5h3M513 234.5h1M513 236.5h3M513 237.5h3M514 235.5h1M513 235.5h3M513 236.5h3M514 234.5h1M514 236.5h3M514 237.5h3M515 235.5h1M515 234.5h3M515 235.5h3M516 233.5h1M515 236.5h3M515 237.5h3M516 235.5h1M515 235.5h3M515 236.5h3M516 234.5h1M515 237.5h3M515 238.5h3M516 236.5h1M516 234.5h3M516 235.5h3M517 233.5h1M516 233.5h3M516 234.5h3M517 232.5h1M518 232.5h3M518 233.5h3M519 231.5h1M517 232.5h3M517 233.5h3M518 231.5h1M518 230.5h3M518 231.5h3M519 229.5h1M518 228.5h3M518 229.5h3M519 227.5h1M519 226.5h3M519 227.5h3M520 225.5h1M519 224.5h3M519 225.5h3M520 223.5h1M520 216.5h3M520 217.5h3M521 215.5h1M520 219.5h3M520 220.5h3M521 218.5h1M520 217.5h3M520 218.5h3M521 216.5h1M521 214.5h3M521 215.5h3M522 213.5h1M521 209.5h3M522.5 208v3M521 205.5h3M521 206.5h3M522 204.5h1M522 205.5h3M522 206.5h3M523 204.5h1M522 201.5h4M523.5 200v3M523 206.5h3M524.5 205v3M523 202.5h4M524.5 201v3M523 207.5h3M523 208.5h3M524 206.5h1M524 209.5h3M524 210.5h3M525 208.5h1M524 216.5h3M524 217.5h3M525 215.5h1M524 217.5h3M524 218.5h3M525 216.5h1M525 220.5h3M525 221.5h3M526 219.5h1M525 225.5h3M525 226.5h3M526 224.5h1M526 226.5h3M526 227.5h3M527 225.5h1M526 230.5h4M527.5 229v3M526 234.5h3M527.5 233v3M527 230.5h3M527 231.5h3M528 229.5h1M527 231.5h3M527 232.5h3M528 230.5h1M528 231.5h3M528 232.5h3M529 230.5h1M528 232.5h3M528 233.5h3M529 231.5h1M529 232.5h3M529 233.5h3M530 231.5h1M529 234.5h3M529 235.5h3M530 233.5h1M530 233.5h3M530 234.5h3M531 232.5h1M531 234.5h3M531 235.5h3M532 233.5h1M531 231.5h3M531 232.5h3M532 230.5h1M532 235.5h3M532 236.5h3M533 234.5h1M531 233.5h3M531 234.5h3M532 232.5h1M532 234.5h3M532 235.5h3M533 233.5h1M533 236.5h3M533 237.5h3M534 235.5h1M533 235.5h3M533 236.5h3M534 234.5h1M533 232.5h3M533 233.5h3M534 231.5h1M534 230.5h3M534 231.5h3M535 229.5h1M534 235.5h3M534 236.5h3M535 234.5h1M535 236.5h3M535 237.5h3M536 235.5h1M535 238.5h3M535 239.5h3M536 237.5h1M536 239.5h3M536 240.5h3M537 238.5h1M536 242.5h3M536 243.5h3M537 241.5h1M537 245.5h3M537 246.5h3M538 244.5h1M537 248.5h3M537 249.5h3M538 247.5h1M537 247.5h3M537 248.5h3M538 246.5h1M538 251.5h3M538 252.5h3M539 250.5h1M538 250.5h3M538 251.5h3M539 249.5h1M539 253.5h3M539 254.5h3M540 252.5h1M539 252.5h3M539 253.5h3M540 251.5h1M540 253.5h3M540 254.5h3M541 252.5h1M540 252.5h3M540 253.5h3M541 251.5h1M540 255.5h3M540 256.5h3M541 254.5h1M541 256.5h3M541 257.5h3M542 255.5h1M541 258.5h3M541 259.5h3M542 257.5h1M541 257.5h3M541 258.5h3M542 256.5h1M542 257.5h3M542 258.5h3M543 256.5h1M543 257.5h3M543 258.5h3M544 256.5h1M543 259.5h3M543 260.5h3M544 258.5h1M543 258.5h3M543 259.5h3M544 257.5h1M544 256.5h3M544 257.5h3M545 255.5h1M544 259.5h3M544 260.5h3M545 258.5h1M544 257.5h3M544 258.5h3M545 256.5h1M545 252.5h3M545 253.5h3M546 251.5h1M545 254.5h3M545 255.5h3M546 253.5h1M546 255.5h3M546 256.5h3M547 254.5h1M546 249.5h3M546 250.5h3M547 248.5h1M546 248.5h3M546 249.5h3M547 247.5h1M547 248.5h3M547 249.5h3M548 247.5h1M547 247.5h3M547 248.5h3M548 246.5h1M548 241.5h3M549.5 240v3M549 237.5h3M549 238.5h3M550 236.5h1M549 236.5h3M549 237.5h3M550 235.5h1M549 235.5h3M549 236.5h3M550 234.5h1M549 230.5h3M550.5 229v3M550 235.5h4M551.5 234v3M550 227.5h3M550 228.5h3M551 226.5h1M550 225.5h3M550 226.5h3M551 224.5h1M551 226.5h3M551 227.5h3M552 225.5h1M551 219.5h3M551 220.5h3M552 218.5h1M551 217.5h3M551 218.5h3M552 216.5h1M552 219.5h3M552 220.5h3M553 218.5h1M552 213.5h3M552 214.5h3M553 212.5h1M552 211.5h3M552 212.5h3M553 210.5h1M553 213.5h3M553 214.5h3M554 212.5h1M553 214.5h3M553 215.5h3M554 213.5h1M554 217.5h3M554 218.5h3M555 216.5h1M554 219.5h3M554 220.5h3M555 218.5h1M554 222.5h3M554 223.5h3M555 221.5h1M555 222.5h3M555 223.5h3M556 221.5h1M555 228.5h3M555 229.5h3M556 227.5h1M555 229.5h3M555 230.5h3M556 228.5h1M555 230.5h3M555 231.5h3M556 229.5h1M556 232.5h3M556 233.5h3M557 231.5h1M557 236.5h3M557 237.5h3M558 235.5h1M557 237.5h3M557 238.5h3M558 236.5h1M557 240.5h3M557 241.5h3M558 239.5h1M558 241.5h3M558 242.5h3M559 240.5h1M558 243.5h3M558 244.5h3M559 242.5h1M559 244.5h3M559 245.5h3M560 243.5h1M559 245.5h3M559 246.5h3M560 244.5h1M560 245.5h3M560 246.5h3M561 244.5h1M561 247.5h3M561 248.5h3M562 246.5h1M561 248.5h3M561 249.5h3M562 247.5h1M562 249.5h3M562 250.5h3M563 248.5h1M563 250.5h3M563 251.5h3M564 249.5h1M563 247.5h3M563 248.5h3M564 246.5h1M564 247.5h3M564 248.5h3M565 246.5h1M564 250.5h3M564 251.5h3M565 249.5h1M565 252.5h3M565 253.5h3M566 251.5h1M565 251.5h3M565 252.5h3M566 250.5h1M566 252.5h3M566 253.5h3M567 251.5h1M567 252.5h3M567 253.5h3M568 251.5h1M567 254.5h3M567 255.5h3M568 253.5h1M567 255.5h3M567 256.5h3M568 254.5h1M568 255.5h3M568 256.5h3M569 254.5h1M568 257.5h3M568 258.5h3M569 256.5h1M569 257.5h3M569 258.5h3M570 256.5h1M569 259.5h3M569 260.5h3M570 258.5h1M569 261.5h3M569 262.5h3M570 260.5h1M570 262.5h3M570 263.5h3M571 261.5h1M570 263.5h3M570 264.5h3M571 262.5h1M570 264.5h3M570 265.5h3M571 263.5h1M571 265.5h3M571 266.5h3M572 264.5h1M571 267.5h3M571 268.5h3M572 266.5h1M572 269.5h3M572 270.5h3M573 268.5h1M572 272.5h3M572 273.5h3M573 271.5h1M572 273.5h3M572 274.5h3M573 272.5h1M573 275.5h3M573 276.5h3M574 274.5h1M573 274.5h3M573 275.5h3M574 273.5h1M573 276.5h3M573 277.5h3M574 275.5h1M574 277.5h3M574 278.5h3M575 276.5h1M574 275.5h3M574 276.5h3M575 274.5h1M575 275.5h3M575 276.5h3M576 274.5h1M575 273.5h3M575 274.5h3M576 272.5h1M575 271.5h3M575 272.5h3M576 270.5h1M576 270.5h3M576 271.5h3M577 269.5h1M576 271.5h3M576 272.5h3M577 270.5h1M576 269.5h3M576 270.5h3M577 268.5h1M577 268.5h3M577 269.5h3M578 267.5h1M578 267.5h3M578 268.5h3M579 266.5h1M577 265.5h3M577 266.5h3M578 264.5h1M578 263.5h3M578 264.5h3M579 262.5h1M578 262.5h3M578 263.5h3M579 261.5h1M578 259.5h3M578 260.5h3M579 258.5h1M579 250.5h3M579 251.5h3M580 249.5h1M579 249.5h3M579 250.5h3M580 248.5h1M579 243.5h3M580.5 242v3M579 236.5h3M579 237.5h3M580 235.5h1M580 235.5h3M580 236.5h3M581 234.5h1M581 231.5h4M582.5 230v3M581 224.5h3M581 225.5h3M582 223.5h1M581 223.5h3M581 224.5h3M582 222.5h1M581 220.5h3M581 221.5h3M582 219.5h1M582 220.5h3M582 221.5h3M583 219.5h1M582 215.5h3M583.5 214v3M582 222.5h3M582 223.5h3M583 221.5h1M583 227.5h4M584.5 226v3M583 231.5h3M583 232.5h3M584 230.5h1M584 230.5h3M584 231.5h3M585 229.5h1M584 229.5h3M584 230.5h3M585 228.5h1M584 231.5h3M584 232.5h3M585 230.5h1M584 236.5h3M585.5 235v3M585 241.5h3M585 242.5h3M586 240.5h1M585 239.5h3M585 240.5h3M586 238.5h1M585 237.5h3M585 238.5h3M586 236.5h1M586 241.5h3M586 242.5h3M587 240.5h1M586 244.5h3M586 245.5h3M587 243.5h1M586 245.5h3M586 246.5h3M587 244.5h1M587 246.5h3M587 247.5h3M588 245.5h1M587 247.5h3M587 248.5h3M588 246.5h1M587 250.5h3M587 251.5h3M588 249.5h1M588 252.5h3M588 253.5h3M589 251.5h1M588 253.5h3M588 254.5h3M589 252.5h1M589 253.5h3M589 254.5h3M590 252.5h1M590 255.5h3M590 256.5h3M591 254.5h1M590 256.5h3M590 257.5h3M591 255.5h1M591 257.5h3M591 258.5h3M592 256.5h1M592 256.5h3M592 257.5h3M593 255.5h1M592 258.5h3M592 259.5h3M593 257.5h1M593 255.5h3M593 256.5h3M594 254.5h1M593 260.5h4M594.5 259v3M594 258.5h3M594 259.5h3M595 257.5h1M595 256.5h3M595 257.5h3M596 255.5h1M595 255.5h3M595 256.5h3M596 254.5h1M596 252.5h3M596 253.5h3M597 251.5h1M596 253.5h3M596 254.5h3M597 252.5h1M596 256.5h3M596 257.5h3M597 255.5h1M597 255.5h3M597 256.5h3M598 254.5h1M598 253.5h3M598 254.5h3M599 252.5h1M597 253.5h3M597 254.5h3M598 252.5h1M598 255.5h3M598 256.5h3M599 254.5h1M598 258.5h3M598 259.5h3M599 257.5h1M599 257.5h3M599 258.5h3M600 256.5h1M600 256.5h3M600 257.5h3M601 255.5h1M601 259.5h3M601 260.5h3M602 258.5h1M600 258.5h3M600 259.5h3M601 257.5h1M601 254.5h3M602.5 253v3M602 260.5h3M602 261.5h3M603 259.5h1M602 259.5h3M602 260.5h3M603 258.5h1M603 262.5h3M603 263.5h3M604 261.5h1M603 261.5h3M603 262.5h3M604 260.5h1M603 265.5h3M603 266.5h3M604 264.5h1M604 262.5h3M604 263.5h3M605 261.5h1M604 263.5h3M604 264.5h3M605 262.5h1M605 262.5h3M605 263.5h3M606 261.5h1M605 261.5h3M605 262.5h3M606 260.5h1M605 263.5h3M605 264.5h3M606 262.5h1M606 264.5h3M606 265.5h3M607 263.5h1M606 261.5h3M606 262.5h3M607 260.5h1M607 256.5h3M607 257.5h3M608 255.5h1M608 255.5h3M608 256.5h3M609 254.5h1M608 252.5h3M608 253.5h3M609 251.5h1M609 251.5h3M609 252.5h3M610 250.5h1M609 247.5h3M609 248.5h3M610 246.5h1M610 246.5h3M610 247.5h3M611 245.5h1M610 244.5h3M610 245.5h3M611 243.5h1M610 243.5h3M610 244.5h3M611 242.5h1M611 241.5h3M611 242.5h3M612 240.5h1M611 240.5h3M611 241.5h3M612 239.5h1M612 240.5h3M612 241.5h3M613 239.5h1M612 226.5h4M613.5 225v3M612 210.5h3M613.5 209v3M612 223.5h4M613.5 222v3M613 237.5h3M613 238.5h3M614 236.5h1M613 236.5h3M613 237.5h3M614 235.5h1M613 240.5h3M613 241.5h3M614 239.5h1M614 241.5h3M614 242.5h3M615 240.5h1M614 240.5h3M614 241.5h3M615 239.5h1M614 242.5h3M614 243.5h3M615 241.5h1M615 243.5h3M615 244.5h3M616 242.5h1M616 246.5h3M616 247.5h3M617 245.5h1M615 247.5h3M615 248.5h3M616 246.5h1M616 248.5h3M616 249.5h3M617 247.5h1M616 247.5h3M616 248.5h3M617 246.5h1M617 248.5h3M617 249.5h3M618 247.5h1M618 250.5h3M618 251.5h3M619 249.5h1M617 251.5h3M617 252.5h3M618 250.5h1M618 253.5h3M618 254.5h3M619 252.5h1M618 255.5h3M618 256.5h3M619 254.5h1M618 256.5h3M618 257.5h3M619 255.5h1M619 258.5h3M619 259.5h3M620 257.5h1M619 259.5h3M619 260.5h3M620 258.5h1M620 262.5h3M620 263.5h3M621 261.5h1M620 261.5h3M620 262.5h3M621 260.5h1M621 261.5h3M621 262.5h3M622 260.5h1M621 262.5h3M621 263.5h3M622 261.5h1M622 262.5h3M622 263.5h3M623 261.5h1M622 263.5h3M622 264.5h3M623 262.5h1M623 262.5h3M623 263.5h3M624 261.5h1M624 264.5h3M624 265.5h3M625 263.5h1M624 266.5h3M624 267.5h3M625 265.5h1M624 265.5h3M624 266.5h3M625 264.5h1M625 267.5h3M625 268.5h3M626 266.5h1M626 268.5h3M626 269.5h3M627 267.5h1M626 267.5h3M626 268.5h3M627 266.5h1M628 269.5h3M628 270.5h3M629 268.5h1M628 270.5h3M628 271.5h3M629 269.5h1M629 271.5h3M629 272.5h3M630 270.5h1M629 273.5h3M629 274.5h3M630 272.5h1M630 271.5h3M630 272.5h3M631 270.5h1M630 272.5h3M630 273.5h3M631 271.5h1M631 274.5h3M631 275.5h3M632 273.5h1M631 276.5h3M631 277.5h3M632 275.5h1M632 275.5h3M632 276.5h3M633 274.5h1M632 276.5h3M632 277.5h3M633 275.5h1M632 277.5h3M632 278.5h3M633 276.5h1M633 277.5h3M633 278.5h3M634 276.5h1M633 279.5h3M633 280.5h3M634 278.5h1M634 278.5h3M634 279.5h3M635 277.5h1M634 281.5h3M634 282.5h3M635 280.5h1M634 283.5h3M634 284.5h3M635 282.5h1M635 281.5h3M635 282.5h3M636 280.5h1M635 282.5h3M635 283.5h3M636 281.5h1M635 284.5h3M635 285.5h3M636 283.5h1M636 284.5h3M636 285.5h3M637 283.5h1M637 283.5h3M637 284.5h3M638 282.5h1M637 280.5h3M637 281.5h3M638 279.5h1M638 279.5h3M638 280.5h3M639 278.5h1M638 277.5h3M638 278.5h3M639 276.5h1M638 275.5h3M638 276.5h3M639 274.5h1M639 271.5h3M640.5 270v3M639 267.5h3M639 268.5h3M640 266.5h1M639 266.5h3M639 267.5h3M640 265.5h1M640 262.5h3M640 263.5h3M641 261.5h1M640 259.5h3M640 260.5h3M641 258.5h1M641 253.5h3M641 254.5h3M642 252.5h1M641 254.5h3M641 255.5h3M642 253.5h1M641 246.5h4M642.5 245v3M641 240.5h3M641 241.5h3M642 239.5h1M642 239.5h3M642 240.5h3M643 238.5h1M642 228.5h3M643.5 227v3M642 219.5h3M642 220.5h3M643 218.5h1M642 216.5h3M642 217.5h3M643 215.5h1M643 220.5h3M643 221.5h3M644 219.5h1M643 219.5h3M643 220.5h3M644 218.5h1M644 220.5h3M644 221.5h3M645 219.5h1M644 216.5h3M644 217.5h3M645 215.5h1M644 218.5h3M644 219.5h3M645 217.5h1M645 210.5h3M646.5 209v3M646 220.5h4M647.5 219v3M646 227.5h3M647.5 226v3M646 222.5h3M646 223.5h3M647 221.5h1M646 223.5h3M646 224.5h3M647 222.5h1M647 229.5h3M647 230.5h3M648 228.5h1M647 231.5h3M647 232.5h3M648 230.5h1M647 226.5h4M648.5 225v3M648 233.5h3M648 234.5h3M649 232.5h1M648 235.5h3M648 236.5h3M649 234.5h1M649 237.5h3M649 238.5h3M650 236.5h1M649 238.5h3M649 239.5h3M650 237.5h1M649 240.5h3M649 241.5h3M650 239.5h1M649 242.5h3M649 243.5h3M650 241.5h1M650 242.5h3M650 243.5h3M651 241.5h1M650 243.5h3M650 244.5h3M651 242.5h1M651 242.5h3M651 243.5h3M652 241.5h1M651 245.5h3M651 246.5h3M652 244.5h1M651 248.5h3M651 249.5h3M652 247.5h1M652 250.5h3M652 251.5h3M653 249.5h1M652 247.5h3M652 248.5h3M653 246.5h1M653 244.5h3M653 245.5h3M654 243.5h1M653 243.5h3M653 244.5h3M654 242.5h1M654 243.5h3M654 244.5h3M655 242.5h1M654 240.5h3M654 241.5h3M655 239.5h1M654 242.5h3M654 243.5h3M655 241.5h1M655 245.5h3M655 246.5h3M656 244.5h1M655 250.5h3M655 251.5h3M656 249.5h1M655 251.5h3M655 252.5h3M656 250.5h1M656 252.5h3M656 253.5h3M657 251.5h1M656 248.5h3M657.5 247v3M657 254.5h3M657 255.5h3M658 253.5h1M657 253.5h3M657 254.5h3M658 252.5h1M657 250.5h3M657 251.5h3M658 249.5h1M658 248.5h3M658 249.5h3M659 247.5h1M659 247.5h3M659 248.5h3M660 246.5h1M658 249.5h3M658 250.5h3M659 248.5h1M659 251.5h3M659 252.5h3M660 250.5h1M660 250.5h3M660 251.5h3M661 249.5h1M660 251.5h3M660 252.5h3M661 250.5h1M661 250.5h3M661 251.5h3M662 249.5h1M661 253.5h3M661 254.5h3M662 252.5h1M662 250.5h3M662 251.5h3M663 249.5h1M662 252.5h3M662 253.5h3M663 251.5h1M662 253.5h3M662 254.5h3M663 252.5h1M663 252.5h3M663 253.5h3M664 251.5h1M663 253.5h3M663 254.5h3M664 252.5h1M664 253.5h3M664 254.5h3M665 252.5h1M664 255.5h3M664 256.5h3M665 254.5h1M665 254.5h3M665 255.5h3M666 253.5h1M666 253.5h3M666 254.5h3M667 252.5h1M666 254.5h3M666 255.5h3M667 253.5h1M666 251.5h3M666 252.5h3M667 250.5h1M666 250.5h3M666 251.5h3M667 249.5h1M667 252.5h3M667 253.5h3M668 251.5h1M667 249.5h3M667 250.5h3M668 248.5h1M668 245.5h4M669.5 244v3M668 240.5h3M668 241.5h3M669 239.5h1M669 239.5h3M669 240.5h3M670 238.5h1M669 236.5h3M669 237.5h3M670 235.5h1M669 233.5h3M669 234.5h3M670 232.5h1M669 229.5h3M670.5 228v3M670 221.5h4M671.5 220v3M670 205.5h3M671.5 204v3M670 200.5h3M670 201.5h3M671 199.5h1M670 198.5h3M670 199.5h3M671 197.5h1M671 202.5h3M671 203.5h3M672 201.5h1M672 205.5h3M672 206.5h3M673 204.5h1M672 212.5h4M673.5 211v3M672 219.5h3M672 220.5h3M673 218.5h1M673 219.5h3M673 220.5h3M674 218.5h1M673 223.5h3M674.5 222v3M674 219.5h4M675.5 218v3M674 226.5h3M674 227.5h3M675 225.5h1M674 224.5h3M674 225.5h3M675 223.5h1M675 225.5h3M675 226.5h3M676 224.5h1M675 224.5h3M675 225.5h3M676 223.5h1M675 222.5h3M675 223.5h3M676 221.5h1M676 219.5h3M676 220.5h3M677 218.5h1M676 220.5h3M676 221.5h3M677 219.5h1M676 221.5h3M676 222.5h3M677 220.5h1M676 223.5h3M676 224.5h3M677 222.5h1M677 227.5h3M677 228.5h3M678 226.5h1M678 229.5h3M678 230.5h3M679 228.5h1M678 230.5h3M678 231.5h3M679 229.5h1M679 231.5h3M679 232.5h3M680 230.5h1M679 233.5h3M679 234.5h3M680 232.5h1M680 234.5h3M680 235.5h3M681 233.5h1M681 237.5h3M681 238.5h3M682 236.5h1M681 238.5h3M681 239.5h3M682 237.5h1M682 239.5h3M682 240.5h3M683 238.5h1M683 244.5h4M684.5 243v3M683 240.5h3M683 241.5h3M684 239.5h1M683 239.5h3M683 240.5h3M684 238.5h1M684 237.5h3M684 238.5h3M685 236.5h1M684 239.5h3M684 240.5h3M685 238.5h1M684 238.5h3M684 239.5h3M685 237.5h1M685 238.5h3M685 239.5h3M686 237.5h1M685 236.5h3M685 237.5h3M686 235.5h1M685 240.5h3M685 241.5h3M686 239.5h1M685 242.5h3M685 243.5h3M686 241.5h1M686 247.5h3M686 248.5h3M687 246.5h1M686 248.5h3M686 249.5h3M687 247.5h1M686 250.5h3M686 251.5h3M687 249.5h1M687 244.5h3M687 245.5h3M688 243.5h1M688 244.5h3M688 245.5h3M689 243.5h1M688 245.5h3M688 246.5h3M689 244.5h1M688 243.5h3M688 244.5h3M689 242.5h1M688 242.5h3M688 243.5h3M689 241.5h1M689 247.5h3M690.5 246v3M690 240.5h4M691.5 239v3M690 248.5h3M690 249.5h3M691 247.5h1M690 245.5h3M690 246.5h3M691 244.5h1M691 246.5h3M691 247.5h3M692 245.5h1M691 244.5h3M691 245.5h3M692 243.5h1M692 240.5h3M692 241.5h3M693 239.5h1M692 237.5h3M692 238.5h3M693 236.5h1M692 243.5h3M692 244.5h3M693 242.5h1M693 243.5h3M693 244.5h3M694 242.5h1M693 241.5h3M693 242.5h3M694 240.5h1M694 241.5h3M694 242.5h3M695 240.5h1M694 243.5h3M694 244.5h3M695 242.5h1M695 240.5h3M695 241.5h3M696 239.5h1M695 246.5h3M695 247.5h3M696 245.5h1M695 244.5h3M695 245.5h3M696 243.5h1M696 247.5h3M696 248.5h3M697 246.5h1M696 245.5h3M696 246.5h3M697 244.5h1M696 244.5h3M696 245.5h3M697 243.5h1M697 242.5h3M697 243.5h3M698 241.5h1M698 242.5h3M698 243.5h3M699 241.5h1M698 241.5h3M698 242.5h3M699 240.5h1M699 239.5h3M699 240.5h3M700 238.5h1M699 237.5h3M699 238.5h3M700 236.5h1M700 236.5h3M700 237.5h3M701 235.5h1M700 235.5h3M700 236.5h3M701 234.5h1M700 233.5h3M700 234.5h3M701 232.5h1M701 232.5h3M701 233.5h3M702 231.5h1M702 228.5h3M702 229.5h3M703 227.5h1M702 227.5h3M702 228.5h3M703 226.5h1M702 225.5h3M702 226.5h3M703 224.5h1M703 220.5h3M704.5 219v3M703 216.5h3M703 217.5h3M704 215.5h1M703 218.5h3M703 219.5h3M704 217.5h1M704 224.5h3M704 225.5h3M705 223.5h1M704 225.5h3M704 226.5h3M705 224.5h1M704 226.5h3M704 227.5h3M705 225.5h1M705 224.5h3M705 225.5h3M706 223.5h1M705 225.5h3M705 226.5h3M706 224.5h1M706 227.5h3M706 228.5h3M707 226.5h1M706 226.5h3M706 227.5h3M707 225.5h1M706 224.5h3M706 225.5h3M707 223.5h1M707 226.5h3M707 227.5h3M708 225.5h1M708 228.5h3M708 229.5h3M709 227.5h1M708 229.5h3M708 230.5h3M709 228.5h1M709 229.5h3M709 230.5h3M710 228.5h1M709 231.5h3M709 232.5h3M710 230.5h1M709 230.5h3M709 231.5h3M710 229.5h1M710 233.5h3M710 234.5h3M711 232.5h1M710 236.5h3M710 237.5h3M711 235.5h1M711 238.5h3M711 239.5h3M712 237.5h1M711 239.5h3M711 240.5h3M712 238.5h1M712 244.5h3M712 245.5h3M713 243.5h1M712 241.5h3M712 242.5h3M713 240.5h1M713 243.5h3M713 244.5h3M714 242.5h1M713 244.5h3M713 245.5h3M714 243.5h1M713 241.5h3M713 242.5h3M714 240.5h1M714 238.5h3M714 239.5h3M715 237.5h1M714 241.5h3M714 242.5h3M715 240.5h1M715 239.5h3M715 240.5h3M716 238.5h1M715 241.5h3M715 242.5h3M716 240.5h1M715 240.5h3M715 241.5h3M716 239.5h1M716 238.5h3M716 239.5h3M717 237.5h1M716 239.5h3M716 240.5h3M717 238.5h1M717 238.5h3M717 239.5h3M718 237.5h1M717 245.5h4M718.5 244v3M718 239.5h3M719.5 238v3M718 243.5h3M718 244.5h3M719 242.5h1M718 246.5h3M718 247.5h3M719 245.5h1M719 245.5h3M719 246.5h3M720 244.5h1M719 248.5h3M719 249.5h3M720 247.5h1M719 247.5h3M719 248.5h3M720 246.5h1M720 245.5h3M720 246.5h3M721 244.5h1M720 250.5h4M721.5 249v3M721 244.5h3M722.5 243v3M721 250.5h3M721 251.5h3M722 249.5h1M722 249.5h3M722 250.5h3M723 248.5h1M722 251.5h3M722 252.5h3M723 250.5h1M722 253.5h3M722 254.5h3M723 252.5h1M723 253.5h3M723 254.5h3M724 252.5h1M723 254.5h3M723 255.5h3M724 253.5h1M724 257.5h3M724 258.5h3M725 256.5h1M724 259.5h3M724 260.5h3M725 258.5h1M724 263.5h3M724 264.5h3M725 262.5h1M724 264.5h3M724 265.5h3M725 263.5h1M725 268.5h3M725 269.5h3M726 267.5h1M725 269.5h3M725 270.5h3M726 268.5h1M725 271.5h3M725 272.5h3M726 270.5h1M726 267.5h3M726 268.5h3M727 266.5h1M726 266.5h3M726 267.5h3M727 265.5h1M727 264.5h3M727 265.5h3M728 263.5h1M727 263.5h3M727 264.5h3M728 262.5h1M727 260.5h3M727 261.5h3M728 259.5h1M728 255.5h3M728 256.5h3M729 254.5h1M728 257.5h3M728 258.5h3M729 256.5h1M729 248.5h3M730.5 247v3M729 243.5h4M730.5 242v3M729 239.5h3M729 240.5h3M730 238.5h1M729 238.5h3M729 239.5h3M730 237.5h1M730 237.5h3M730 238.5h3M731 236.5h1M730 232.5h3M730 233.5h3M731 231.5h1M730 229.5h3M730 230.5h3M731 228.5h1M731 226.5h3M731 227.5h3M732 225.5h1M731 223.5h3M731 224.5h3M732 222.5h1M732 220.5h3M732 221.5h3M733 219.5h1M732 221.5h3M732 222.5h3M733 220.5h1M732 224.5h3M732 225.5h3M733 223.5h1M733 230.5h3M733 231.5h3M734 229.5h1M733 232.5h3M733 233.5h3M734 231.5h1M734 228.5h3M734 229.5h3M735 227.5h1M734 234.5h3M735.5 233v3M734 240.5h4M735.5 239v3M735 234.5h3M735 235.5h3M736 233.5h1M736 233.5h3M736 234.5h3M737 232.5h1M736 227.5h3M736 228.5h3M737 226.5h1M737 228.5h3M737 229.5h3M738 227.5h1M737 230.5h3M737 231.5h3M738 229.5h1M737 236.5h3M737 237.5h3M738 235.5h1M738 236.5h3M738 237.5h3M739 235.5h1M738 237.5h3M738 238.5h3M739 236.5h1M738 235.5h3M738 236.5h3M739 234.5h1M739 242.5h4M740.5 241v3M739 247.5h3M739 248.5h3M740 246.5h1M739 249.5h3M739 250.5h3M740 248.5h1M740 255.5h3M741.5 254v3M740 262.5h4M741.5 261v3M740 268.5h3M740 269.5h3M741 267.5h1M741 269.5h3M741 270.5h3M742 268.5h1M741 267.5h3M741 268.5h3M742 266.5h1M742 263.5h3M742 264.5h3M743 262.5h1M742 260.5h3M742 261.5h3M743 259.5h1M742 259.5h3M742 260.5h3M743 258.5h1M742 258.5h3M742 259.5h3M743 257.5h1M743 257.5h3M743 258.5h3M744 256.5h1M743 250.5h3M743 251.5h3M744 249.5h1M744 253.5h3M744 254.5h3M745 252.5h1M744 252.5h3M744 253.5h3M745 251.5h1M744 255.5h3M744 256.5h3M745 254.5h1M745 252.5h3M745 253.5h3M746 251.5h1M745 251.5h3M745 252.5h3M746 250.5h1M746 247.5h3M746 248.5h3M747 246.5h1M746 249.5h3M746 250.5h3M747 248.5h1M746 246.5h3M746 247.5h3M747 245.5h1M747 245.5h3M747 246.5h3M748 244.5h1M747 247.5h3M747 248.5h3M748 246.5h1M747 246.5h3M747 247.5h3M748 245.5h1M748 250.5h3M748 251.5h3M749 249.5h1M748 248.5h3M748 249.5h3M749 247.5h1M749 252.5h3M749 253.5h3M750 251.5h1M749 249.5h3M749 250.5h3M750 248.5h1M750 249.5h3M750 250.5h3M751 248.5h1M750 251.5h3M750 252.5h3M751 250.5h1M750 248.5h3M750 249.5h3M751 247.5h1M750 254.5h3M750 255.5h3M751 253.5h1M751 255.5h3M751 256.5h3M752 254.5h1M752 246.5h3M752 247.5h3M753 245.5h1M752 249.5h3M752 250.5h3M753 248.5h1M752 251.5h3M752 252.5h3M753 250.5h1M753 247.5h4M754.5 246v3M753 254.5h3M754.5 253v3M753 249.5h4M754.5 248v3M754 255.5h3M755.5 254v3M754 251.5h4M755.5 250v3M755 256.5h3M755 257.5h3M756 255.5h1M755 257.5h3M755 258.5h3M756 256.5h1M756 254.5h3M756 255.5h3M757 253.5h1M756 256.5h3M756 257.5h3M757 255.5h1M756 259.5h3M756 260.5h3M757 258.5h1M757 256.5h3M757 257.5h3M758 255.5h1M757 257.5h3M757 258.5h3M758 256.5h1M758 252.5h3M758 253.5h3M759 251.5h1M758 255.5h3M758 256.5h3M759 254.5h1M759 250.5h3M759 251.5h3M760 249.5h1M759 251.5h3M759 252.5h3M760 250.5h1M760 247.5h3M760 248.5h3M761 246.5h1M760 246.5h3M760 247.5h3M761 245.5h1M760 245.5h3M760 246.5h3M761 244.5h1M761 243.5h3M761 244.5h3M762 242.5h1M761 238.5h4M762.5 237v3M762 242.5h3M763.5 241v3M762 238.5h4M763.5 237v3M763 245.5h3M763 246.5h3M764 244.5h1M763 247.5h3M763 248.5h3M764 246.5h1M764 246.5h3M764 247.5h3M765 245.5h1M765 249.5h3M765 250.5h3M766 248.5h1M765 246.5h3M765 247.5h3M766 245.5h1M765 250.5h3M765 251.5h3M766 249.5h1M766 251.5h3M766 252.5h3M767 250.5h1M766 255.5h3M767.5 254v3M766 249.5h3M766 250.5h3M767 248.5h1M767 249.5h3M767 250.5h3M768 248.5h1M768 250.5h3M768 251.5h3M769 249.5h1M768 256.5h3M768 257.5h3M769 255.5h1M769 255.5h3M769 256.5h3M770 254.5h1M768 255.5h3M768 256.5h3M769 254.5h1M769 257.5h3M769 258.5h3M770 256.5h1M769 256.5h3M769 257.5h3M770 255.5h1M769 263.5h3M769 264.5h3M770 262.5h1M770 265.5h3M770 266.5h3M771 264.5h1M770 269.5h3M770 270.5h3M771 268.5h1M770 271.5h3M770 272.5h3M771 270.5h1M771 276.5h3M771 277.5h3M772 275.5h1M771 275.5h3M771 276.5h3M772 274.5h1M772 280.5h3M772 281.5h3M773 279.5h1M772 281.5h3M772 282.5h3M773 280.5h1M773 281.5h3M773 282.5h3M774 280.5h1M773 282.5h3M773 283.5h3M774 281.5h1M774 283.5h3M774 284.5h3M775 282.5h1M775 283.5h3M775 284.5h3M776 282.5h1M775 284.5h3M775 285.5h3M776 283.5h1M776 284.5h3M776 285.5h3M777 283.5h1M777 288.5h3M778.5 287v3M777 293.5h3M777 294.5h3M778 292.5h1M777 296.5h3M777 297.5h3M778 295.5h1M777 297.5h3M777 298.5h3M778 296.5h1M777 299.5h3M777 300.5h3M778 298.5h1M778 300.5h3M778 301.5h3M779 299.5h1M778 303.5h3M778 304.5h3M779 302.5h1M779 308.5h3M779 309.5h3M780 307.5h1M779 309.5h3M779 310.5h3M780 308.5h1M780 311.5h3M780 312.5h3M781 310.5h1M780 314.5h3M780 315.5h3M781 313.5h1M780 310.5h4M781.5 309v3M781 320.5h3M781 321.5h3M782 319.5h1M781 321.5h3M781 322.5h3M782 320.5h1M782 319.5h3M782 320.5h3M783 318.5h1M782 323.5h3M782 324.5h3M783 322.5h1M783 322.5h3M783 323.5h3M784 321.5h1M783 324.5h3M783 325.5h3M784 323.5h1M783 316.5h3M783 317.5h3M784 315.5h1M784 318.5h3M784 319.5h3M785 317.5h1M784 312.5h3M784 313.5h3M785 311.5h1M785 313.5h3M785 314.5h3M786 312.5h1M785 308.5h3M785 309.5h3M786 307.5h1M785 307.5h3M785 308.5h3M786 306.5h1M786 305.5h3M786 306.5h3M787 304.5h1M786 307.5h3M786 308.5h3M787 306.5h1M787 304.5h3M787 305.5h3M788 303.5h1M786 302.5h3M786 303.5h3M787 301.5h1M787 302.5h3M787 303.5h3M788 301.5h1M787 301.5h3M787 302.5h3M788 300.5h1M788 301.5h3M788 302.5h3M789 300.5h1M788 297.5h4M789.5 296v3M789 292.5h3M789 293.5h3M790 291.5h1M789 290.5h3M789 291.5h3M790 289.5h1M789 288.5h3M789 289.5h3M790 287.5h1M789 287.5h3M789 288.5h3M790 286.5h1M790 281.5h3M791.5 280v3M790 275.5h4M791.5 274v3M790 269.5h3M790 270.5h3M791 268.5h1M790 270.5h3M790 271.5h3M791 269.5h1M791 266.5h3M792.5 265v3M792 262.5h4M793.5 261v3M792 256.5h3M792 257.5h3M793 255.5h1M792 255.5h3M792 256.5h3M793 254.5h1M793 253.5h3M793 254.5h3M794 252.5h1M793 252.5h3M793 253.5h3M794 251.5h1M793 250.5h3M793 251.5h3M794 249.5h1M794 246.5h3M794 247.5h3M795 245.5h1M794 247.5h3M794 248.5h3M795 246.5h1M794 245.5h3M794 246.5h3M795 244.5h1M795 248.5h3M795 249.5h3M796 247.5h1M796 242.5h3M796 243.5h3M797 241.5h1M795 243.5h3M795 244.5h3M796 242.5h1M796 247.5h3M796 248.5h3M797 246.5h1M796 245.5h3M796 246.5h3M797 244.5h1M797 245.5h3M797 246.5h3M798 244.5h1M797 246.5h3M797 247.5h3M798 245.5h1M797 247.5h3M797 248.5h3M798 246.5h1M798 253.5h3M799.5 252v3M799 258.5h3M799 259.5h3M800 257.5h1M799 260.5h3M799 261.5h3M800 259.5h1M799 259.5h3M799 260.5h3M800 258.5h1M800 266.5h3M800 267.5h3M801 265.5h1M800 265.5h3M800 266.5h3M801 264.5h1M800 270.5h3M800 271.5h3M801 269.5h1M800 273.5h3M800 274.5h3M801 272.5h1M801 275.5h3M801 276.5h3M802 274.5h1M802 276.5h3M802 277.5h3M803 275.5h1M802 275.5h3M802 276.5h3M803 274.5h1M803 278.5h3M803 279.5h3M804 277.5h1M803 276.5h3M803 277.5h3M804 275.5h1M803 277.5h3M803 278.5h3M804 276.5h1M804 279.5h3M804 280.5h3M805 278.5h1M804 282.5h3M804 283.5h3M805 281.5h1M805 281.5h3M805 282.5h3M806 280.5h1M805 282.5h3M805 283.5h3M806 281.5h1M806 284.5h3M806 285.5h3M807 283.5h1M806 285.5h3M806 286.5h3M807 284.5h1M807 289.5h3M807 290.5h3M808 288.5h1M808 291.5h3M808 292.5h3M809 290.5h1M808 292.5h3M808 293.5h3M809 291.5h1M808 295.5h3M808 296.5h3M809 294.5h1M808 296.5h3M808 297.5h3M809 295.5h1M809 297.5h3M809 298.5h3M810 296.5h1M809 298.5h3M809 299.5h3M810 297.5h1M810 304.5h3M810 305.5h3M811 303.5h1M810 305.5h3M810 306.5h3M811 304.5h1M811 305.5h3M811 306.5h3M812 304.5h1M811 307.5h3M811 308.5h3M812 306.5h1M812 310.5h3M812 311.5h3M813 309.5h1M813 306.5h3M813 307.5h3M814 305.5h1M813 307.5h3M813 308.5h3M814 306.5h1M814 305.5h3M814 306.5h3M815 304.5h1M814 306.5h3M814 307.5h3M815 305.5h1M815 305.5h3M815 306.5h3M816 304.5h1M815 303.5h3M815 304.5h3M816 302.5h1M815 304.5h3M815 305.5h3M816 303.5h1M816 303.5h3M816 304.5h3M817 302.5h1M817 300.5h3M817 301.5h3M818 299.5h1M817 302.5h3M817 303.5h3M818 301.5h1M817 301.5h3M817 302.5h3M818 300.5h1M818 300.5h3M818 301.5h3M819 299.5h1M818 303.5h3M818 304.5h3M819 302.5h1M819 302.5h3M819 303.5h3M820 301.5h1M819 298.5h3M819 299.5h3M820 297.5h1M820 295.5h3M820 296.5h3M821 294.5h1M820 288.5h3M820 289.5h3M821 287.5h1M820 289.5h3M820 290.5h3M821 288.5h1M820 284.5h3M820 285.5h3M821 283.5h1M820 283.5h3M820 284.5h3M821 282.5h1M821 280.5h3M821 281.5h3M822 279.5h1M822 274.5h3M822 275.5h3M823 273.5h1M822 273.5h3M822 274.5h3M823 272.5h1M822 269.5h3M822 270.5h3M823 268.5h1M822 267.5h3M822 268.5h3M823 266.5h1M823 257.5h3M823 258.5h3M824 256.5h1M823 259.5h3M823 260.5h3M824 258.5h1M823 255.5h3M824.5 254v3M824 247.5h3M824 248.5h3M825 246.5h1M824 245.5h3M824 246.5h3M825 244.5h1M824 240.5h3M824 241.5h3M825 239.5h1M824 241.5h3M824 242.5h3M825 240.5h1M825 239.5h3M825 240.5h3M826 238.5h1M825 242.5h3M825 243.5h3M826 241.5h1M825 252.5h4M826.5 251v3M826 244.5h3M826 245.5h3M827 243.5h1M826 243.5h3M826 244.5h3M827 242.5h1M826 247.5h3M826 248.5h3M827 246.5h1M827 248.5h3M827 249.5h3M828 247.5h1M828 249.5h3M828 250.5h3M829 248.5h1M828 252.5h3M828 253.5h3M829 251.5h1M829 252.5h3M829 253.5h3M830 251.5h1M829 253.5h3M829 254.5h3M830 252.5h1M829 257.5h3M830.5 256v3M829 262.5h3M829 263.5h3M830 261.5h1M830 260.5h3M830 261.5h3M831 259.5h1M830 263.5h3M830 264.5h3M831 262.5h1M831 264.5h3M831 265.5h3M832 263.5h1M831 263.5h3M831 264.5h3M832 262.5h1M831 265.5h3M831 266.5h3M832 264.5h1M832 268.5h3M832 269.5h3M833 267.5h1M832 269.5h3M832 270.5h3M833 268.5h1M833 272.5h3M833 273.5h3M834 271.5h1M834 273.5h3M834 274.5h3M835 272.5h1M834 272.5h3M834 273.5h3M835 271.5h1M834 271.5h3M834 272.5h3M835 270.5h1M835 273.5h3M835 274.5h3M836 272.5h1M835 274.5h3M835 275.5h3M836 273.5h1M836 274.5h3M836 275.5h3M837 273.5h1M837 275.5h3M837 276.5h3M838 274.5h1M837 280.5h3M837 281.5h3M838 279.5h1M838 280.5h3M838 281.5h3M839 279.5h1M838 279.5h3M838 280.5h3M839 278.5h1M838 281.5h3M838 282.5h3M839 280.5h1M839 283.5h3M839 284.5h3M840 282.5h1M838 291.5h4M839.5 290v3M839 297.5h3M839 298.5h3M840 296.5h1M839 298.5h3M839 299.5h3M840 297.5h1M840 299.5h3M840 300.5h3M841 298.5h1M840 309.5h3M840 310.5h3M841 308.5h1M840 311.5h3M840 312.5h3M841 310.5h1M841 315.5h3M841 316.5h3M842 314.5h1M842 314.5h3M842 315.5h3M843 313.5h1M842 317.5h3M842 318.5h3M843 316.5h1M843 321.5h3M843 322.5h3M844 320.5h1M843 322.5h3M843 323.5h3M844 321.5h1M844 321.5h3M844 322.5h3M845 320.5h1M844 319.5h3M844 320.5h3M845 318.5h1M844 325.5h4M845.5 324v3M845 320.5h3M846.5 319v3M845 314.5h4M846.5 313v3M846 308.5h3M847.5 307v3M846 313.5h3M846 314.5h3M847 312.5h1M846 312.5h3M846 313.5h3M847 311.5h1M847 315.5h3M847 316.5h3M848 314.5h1M847 318.5h3M847 319.5h3M848 317.5h1M848 314.5h3M848 315.5h3M849 313.5h1M848 316.5h3M848 317.5h3M849 315.5h1M849 311.5h3M849 312.5h3M850 310.5h1M849 316.5h3M850.5 315v3M849 312.5h3M849 313.5h3M850 311.5h1M850 310.5h3M850 311.5h3M851 309.5h1M850 294.5h3M850 295.5h3M851 293.5h1M850 295.5h3M850 296.5h3M851 294.5h1M850 278.5h4M851.5 277v3M851 269.5h3M852.5 268v3M851 262.5h4M852.5 261v3M851 249.5h3M851 250.5h3M852 248.5h1M851 247.5h3M851 248.5h3M852 246.5h1M852 230.5h3M852 231.5h3M853 229.5h1M852 227.5h3M852 228.5h3M853 226.5h1M852 221.5h3M852 222.5h3M853 220.5h1M852 219.5h3M852 220.5h3M853 218.5h1M853 212.5h3M854.5 211v3M853 207.5h3M853 208.5h3M854 206.5h1M853 205.5h3M853 206.5h3M854 204.5h1M854 204.5h3M854 205.5h3M855 203.5h1M854 199.5h3M854 200.5h3M855 198.5h1M855 199.5h3M855 200.5h3M856 198.5h1M855 197.5h3M855 198.5h3M856 196.5h1M855 195.5h3M855 196.5h3M856 194.5h1M855 191.5h3M856.5 190v3M856 197.5h3M856 198.5h3M857 196.5h1M856 195.5h3M856 196.5h3M857 194.5h1M856 185.5h3M856 186.5h3M857 184.5h1M857 186.5h3M857 187.5h3M858 185.5h1M857 191.5h3M857 192.5h3M858 190.5h1M858 192.5h3M858 193.5h3M859 191.5h1M858 198.5h3M858 199.5h3M859 197.5h1M858 199.5h3M858 200.5h3M859 198.5h1M859 205.5h3M859 206.5h3M860 204.5h1M859 202.5h3M859 203.5h3M860 201.5h1M860 210.5h3M861.5 209v3M860 221.5h3M860 222.5h3M861 220.5h1M860 224.5h3M860 225.5h3M861 223.5h1M860 230.5h4M861.5 229v3M861 237.5h3M862.5 236v3M861 241.5h4M862.5 240v3M861 254.5h3M861 255.5h3M862 253.5h1M861 255.5h3M861 256.5h3M862 254.5h1M861 242.5h3M862.5 241v3M862 249.5h4M863.5 248v3M862 255.5h3M862 256.5h3M863 254.5h1M862 257.5h3M862 258.5h3M863 256.5h1M863 262.5h3M864.5 261v3M863 267.5h3M863 268.5h3M864 266.5h1M863 269.5h3M863 270.5h3M864 268.5h1M863 270.5h3M863 271.5h3M864 269.5h1M864 273.5h3M864 274.5h3M865 272.5h1M864 276.5h3M864 277.5h3M865 275.5h1M864 278.5h3M864 279.5h3M865 277.5h1M865 282.5h3M865 283.5h3M866 281.5h1M865 283.5h3M865 284.5h3M866 282.5h1M865 285.5h3M865 286.5h3M866 284.5h1M865 287.5h3M865 288.5h3M866 286.5h1M866 291.5h3M866 292.5h3M867 290.5h1M867 293.5h3M867 294.5h3M868 292.5h1M867 297.5h4M868.5 296v3M867 301.5h3M867 302.5h3M868 300.5h1M868 303.5h3M868 304.5h3M869 302.5h1M868 311.5h3M868 312.5h3M869 310.5h1M868 314.5h3M868 315.5h3M869 313.5h1M869 317.5h3M869 318.5h3M870 316.5h1M869 312.5h4M870.5 311v3M870 320.5h3M870 321.5h3M871 319.5h1M870 317.5h3M870 318.5h3M871 316.5h1M871 320.5h3M871 321.5h3M872 319.5h1M871 326.5h4M872.5 325v3M872 320.5h3M872 321.5h3M873 319.5h1M872 323.5h3M872 324.5h3M873 322.5h1M872 324.5h3M872 325.5h3M873 323.5h1M873 322.5h3M873 323.5h3M874 321.5h1M874 318.5h3M874 319.5h3M875 317.5h1M874 315.5h3M874 316.5h3M875 314.5h1M874 314.5h3M874 315.5h3M875 313.5h1M875 317.5h3M875 318.5h3M876 316.5h1M875 310.5h3M875 311.5h3M876 309.5h1M875 308.5h3M875 309.5h3M876 307.5h1M876 316.5h3M876 317.5h3M877 315.5h1M876 319.5h3M876 320.5h3M877 318.5h1M876 317.5h3M876 318.5h3M877 316.5h1M877 320.5h3M877 321.5h3M878 319.5h1M877 324.5h4M878.5 323v3M878 319.5h3M879.5 318v3M878 324.5h3M878 325.5h3M879 323.5h1M878 325.5h3M878 326.5h3M879 324.5h1M879 328.5h3M879 329.5h3M880 327.5h1M879 331.5h3M879 332.5h3M880 330.5h1M880 319.5h4M881.5 318v3M880 315.5h3M881.5 314v3M881 310.5h4M882.5 309v3M881 305.5h3M882.5 304v3M881 300.5h4M882.5 299v3M881 289.5h3M882.5 288v3M881 284.5h4M882.5 283v3M882 269.5h3M883.5 268v3M882 251.5h3M882 252.5h3M883 250.5h1M882 249.5h3M882 250.5h3M883 248.5h1M883 232.5h3M883 233.5h3M884 231.5h1M883 231.5h3M883 232.5h3M884 230.5h1M883 234.5h3M883 235.5h3M884 233.5h1M883 210.5h3M884.5 209v3M883 201.5h3M883 202.5h3M884 200.5h1M883 202.5h3M883 203.5h3M884 201.5h1M884 203.5h3M884 204.5h3M885 202.5h1M884 213.5h3M884 214.5h3M885 212.5h1M885 215.5h3M885 216.5h3M886 214.5h1M885 217.5h3M885 218.5h3M886 216.5h1M885 220.5h3M885 221.5h3M886 219.5h1M886 225.5h3M887.5 224v3M886 221.5h4M887.5 220v3M887 228.5h3M887 229.5h3M888 227.5h1M887 225.5h3M887 226.5h3M888 224.5h1M887 227.5h3M887 228.5h3M888 226.5h1M888 229.5h3M888 230.5h3M889 228.5h1M889 235.5h3M889 236.5h3M890 234.5h1M889 236.5h3M889 237.5h3M890 235.5h1M890 237.5h3M890 238.5h3M891 236.5h1M891 241.5h3M891 242.5h3M892 240.5h1M892 241.5h3M892 242.5h3M893 240.5h1M892 242.5h3M892 243.5h3M893 241.5h1M892 243.5h3M892 244.5h3M893 242.5h1M893 244.5h3M893 245.5h3M894 243.5h1M894 244.5h3M894 245.5h3M895 243.5h1M894 243.5h3M894 244.5h3M895 242.5h1M894 245.5h3M894 246.5h3M895 244.5h1M895 245.5h3M895 246.5h3M896 244.5h1M896 246.5h3M896 247.5h3M897 245.5h1M895 241.5h3M896.5 240v3M897 244.5h3M897 245.5h3M898 243.5h1M897 242.5h3M897 243.5h3M898 241.5h1M898 245.5h3M898 246.5h3M899 244.5h1M898 246.5h3M898 247.5h3M899 245.5h1M899 244.5h3M899 245.5h3M900 243.5h1M899 246.5h3M899 247.5h3M900 245.5h1M900 246.5h3M900 247.5h3M901 245.5h1M901 244.5h3M901 245.5h3M902 243.5h1M901 251.5h3M901 252.5h3M902 250.5h1M901 249.5h3M901 250.5h3M902 248.5h1M902 248.5h3M902 249.5h3M903 247.5h1M902 250.5h3M902 251.5h3M903 249.5h1M903 251.5h3M903 252.5h3M904 250.5h1M903 250.5h3M903 251.5h3M904 249.5h1M903 255.5h3M903 256.5h3M904 254.5h1M904 257.5h3M904 258.5h3M905 256.5h1M904 261.5h3M904 262.5h3M905 260.5h1M905 263.5h3M905 264.5h3M906 262.5h1M905 265.5h3M905 266.5h3M906 264.5h1M905 270.5h3M906.5 269v3M906 275.5h4M907.5 274v3M907 279.5h3M908.5 278v3M907 285.5h3M907 286.5h3M908 284.5h1M907 287.5h3M907 288.5h3M908 286.5h1M908 288.5h3M908 289.5h3M909 287.5h1M907 292.5h3M907 293.5h3M908 291.5h1M908 294.5h3M908 295.5h3M909 293.5h1M908 296.5h3M908 297.5h3M909 295.5h1M909 298.5h3M909 299.5h3M910 297.5h1M910 298.5h3M910 299.5h3M911 297.5h1M910 291.5h3M910 292.5h3M911 290.5h1M910 288.5h3M910 289.5h3M911 287.5h1M911 287.5h3M911 288.5h3M912 286.5h1M911 284.5h3M911 285.5h3M912 283.5h1M911 274.5h4M912.5 273v3M911 269.5h3M912.5 268v3M912 263.5h4M913.5 262v3M912 255.5h3M913.5 254v3M912 249.5h4M913.5 248v3M913 243.5h3M914.5 242v3M913 235.5h4M914.5 234v3M913 237.5h4M914.5 236v3M913 232.5h3M914.5 231v3M914 238.5h4M915.5 237v3M914 231.5h3M914 232.5h3M915 230.5h1M915 230.5h3M915 231.5h3M916 229.5h1M916 230.5h3M916 231.5h3M917 229.5h1M916 231.5h3M916 232.5h3M917 230.5h1M916 229.5h3M916 230.5h3M917 228.5h1M917 234.5h3M917 235.5h3M918 233.5h1M917 230.5h3M917 231.5h3M918 229.5h1M917 228.5h3M917 229.5h3M918 227.5h1M918 237.5h4M919.5 236v3M918 233.5h3M919.5 232v3M918 238.5h4M919.5 237v3M919 242.5h3M920.5 241v3M919 249.5h3M919 250.5h3M920 248.5h1M919 247.5h3M919 248.5h3M920 246.5h1M919 245.5h3M919 246.5h3M920 244.5h1M920 251.5h3M921.5 250v3M920 258.5h3M920 259.5h3M921 257.5h1M920 259.5h3M920 260.5h3M921 258.5h1M920 263.5h4M921.5 262v3M921 268.5h3M921 269.5h3M922 267.5h1M921 271.5h3M921 272.5h3M922 270.5h1M922 278.5h3M922 279.5h3M923 277.5h1M922 277.5h3M922 278.5h3M923 276.5h1M922 280.5h3M922 281.5h3M923 279.5h1M922 283.5h3M922 284.5h3M923 282.5h1M923 286.5h3M923 287.5h3M924 285.5h1M923 287.5h3M923 288.5h3M924 286.5h1M923 289.5h3M923 290.5h3M924 288.5h1M924 292.5h3M924 293.5h3M925 291.5h1M924 293.5h3M924 294.5h3M925 292.5h1M925 294.5h3M925 295.5h3M926 293.5h1M925 296.5h3M925 297.5h3M926 295.5h1M925 299.5h3M925 300.5h3M926 298.5h1M925 305.5h3M926.5 304v3M925 310.5h3M925 311.5h3M926 309.5h1M926 309.5h3M926 310.5h3M927 308.5h1M927 311.5h3M927 312.5h3M928 310.5h1M927 312.5h3M927 313.5h3M928 311.5h1M927 314.5h3M927 315.5h3M928 313.5h1M928 317.5h3M928 318.5h3M929 316.5h1M928 319.5h3M928 320.5h3M929 318.5h1M929 321.5h3M929 322.5h3M930 320.5h1M929 324.5h3M929 325.5h3M930 323.5h1M929 323.5h3M929 324.5h3M930 322.5h1M930 327.5h3M930 328.5h3M931 326.5h1M930 329.5h3M930 330.5h3M931 328.5h1M930 332.5h3M930 333.5h3M931 331.5h1M930 337.5h3M931.5 336v3M931 341.5h3M931 342.5h3M932 340.5h1M932 341.5h3M932 342.5h3M933 340.5h1M932 343.5h3M932 344.5h3M933 342.5h1M932 346.5h3M932 347.5h3M933 345.5h1M932 349.5h3M932 350.5h3M933 348.5h1M933 353.5h3M933 354.5h3M934 352.5h1M933 356.5h3M933 357.5h3M934 355.5h1M934 358.5h3M934 359.5h3M935 357.5h1M934 357.5h3M934 358.5h3M935 356.5h1M935 359.5h3M935 360.5h3M936 358.5h1M935 360.5h3M935 361.5h3M936 359.5h1M935 361.5h3M935 362.5h3M936 360.5h1M936 363.5h3M936 364.5h3M937 362.5h1M936 364.5h3M936 365.5h3M937 363.5h1M937 364.5h3M937 365.5h3M938 363.5h1M936 365.5h3M936 366.5h3M937 364.5h1M937 365.5h3M937 366.5h3M938 364.5h1M938 366.5h3M938 367.5h3M939 365.5h1M939 368.5h3M939 369.5h3M940 367.5h1M939 372.5h3M939 373.5h3M940 371.5h1M939 371.5h3M939 372.5h3M940 370.5h1M940 365.5h4M941.5 364v3M940 359.5h3M940 360.5h3M941 358.5h1M940 356.5h3M940 357.5h3M941 355.5h1M940 339.5h3M941.5 338v3M940 335.5h4M941.5 334v3M941 315.5h3M942.5 314v3M941 311.5h4M942.5 310v3M941 299.5h3M942.5 298v3M942 289.5h4M943.5 288v3M942 283.5h3M943.5 282v3M942 270.5h4M943.5 269v3M942 263.5h3M942 264.5h3M943 262.5h1M943 260.5h3M943 261.5h3M944 259.5h1M943 251.5h3M944.5 250v3M944 242.5h3M944 243.5h3M945 241.5h1M944 241.5h3M944 242.5h3M945 240.5h1M944 240.5h3M944 241.5h3M945 239.5h1M944 237.5h3M944 238.5h3M945 236.5h1M944 235.5h3M944 236.5h3M945 234.5h1M945 232.5h3M945 233.5h3M946 231.5h1M945 229.5h3M945 230.5h3M946 228.5h1M946 226.5h3M946 227.5h3M947 225.5h1M946 225.5h3M946 226.5h3M947 224.5h1M946 223.5h3M946 224.5h3M947 222.5h1M947 224.5h3M947 225.5h3M948 223.5h1M947 217.5h3M947 218.5h3M948 216.5h1M947 218.5h3M947 219.5h3M948 217.5h1M948 215.5h3M948 216.5h3M949 214.5h1M948 214.5h3M948 215.5h3M949 213.5h1M948 212.5h3M948 213.5h3M949 211.5h1M948 217.5h3M948 218.5h3M949 216.5h1M949 218.5h3M949 219.5h3M950 217.5h1M949 219.5h3M949 220.5h3M950 218.5h1M950 224.5h3M951.5 223v3M950 236.5h3M950 237.5h3M951 235.5h1M950 237.5h3M950 238.5h3M951 236.5h1M951 239.5h3M951 240.5h3M952 238.5h1M950 244.5h3M951.5 243v3M951 248.5h4M952.5 247v3M951 242.5h3M952.5 241v3M951 259.5h3M951 260.5h3M952 258.5h1M951 261.5h3M951 262.5h3M952 260.5h1M951 274.5h4M952.5 273v3M952 279.5h3M953.5 278v3M952 288.5h4M953.5 287v3M952 295.5h3M953.5 294v3M952 299.5h3M952 300.5h3M953 298.5h1M953 301.5h3M953 302.5h3M954 300.5h1M953 302.5h3M953 303.5h3M954 301.5h1M953 309.5h3M954.5 308v3M954 319.5h4M955.5 318v3M954 323.5h3M955.5 322v3M955 328.5h3M955 329.5h3M956 327.5h1M955 331.5h3M955 332.5h3M956 330.5h1M956 334.5h3M956 335.5h3M957 333.5h1M956 335.5h3M956 336.5h3M957 334.5h1M956 341.5h3M956 342.5h3M957 340.5h1M957 341.5h3M957 342.5h3M958 340.5h1M957 339.5h3M957 340.5h3M958 338.5h1M958 348.5h3M958 349.5h3M959 347.5h1M958 349.5h3M958 350.5h3M959 348.5h1M958 351.5h3M958 352.5h3M959 350.5h1M958 353.5h3M958 354.5h3M959 352.5h1M959 357.5h3M960.5 356v3" stroke="#ff6600" stroke-width="1" fill="none" shape-rendering="crispEdges"/>
<g filter="url(#ctn)" font-family="'Liberation Sans', Arial, sans-serif" font-size="13" text-anchor="end" fill="#000">
<text x="39.5" y="78">20</text>
<text x="39.5" y="120">15</text>
<text x="39.5" y="162">10</text>
<text x="39.5" y="204">5</text>
<text x="39.5" y="246">0</text>
<text x="39.5" y="287">-5</text>
<text x="39.5" y="329">-10</text>
<text x="39.5" y="371">-15</text>
<text x="39.5" y="413">-20</text>
</g>
<g filter="url(#ctx)" font-family="'Liberation Sans', Arial, sans-serif" font-size="12" fill="#000">
<text transform="translate(55.0 315) rotate(-90)" textLength="60.5" lengthAdjust="spacing">30.01.2005</text>
<text transform="translate(86.0 315) rotate(-90)" textLength="60.5" lengthAdjust="spacing">31.01.2005</text>
<text transform="translate(116.0 315) rotate(-90)" textLength="60.5" lengthAdjust="spacing">01.02.2005</text>
<text transform="translate(147.0 315) rotate(-90)" textLength="60.5" lengthAdjust="spacing">02.02.2005</text>
<text transform="translate(177.0 315) rotate(-90)" textLength="60.5" lengthAdjust="spacing">03.02.2005</text>
<text transform="translate(207.0 315) rotate(-90)" textLength="60.5" lengthAdjust="spacing">04.02.2005</text>
<text transform="translate(237.0 315) rotate(-90)" textLength="60.5" lengthAdjust="spacing">05.02.2005</text>
<text transform="translate(267.0 315) rotate(-90)" textLength="60.5" lengthAdjust="spacing">06.02.2005</text>
<text transform="translate(297.0 315) rotate(-90)" textLength="60.5" lengthAdjust="spacing">07.02.2005</text>
<text transform="translate(328.0 315) rotate(-90)" textLength="60.5" lengthAdjust="spacing">08.02.2005</text>
<text transform="translate(358.0 315) rotate(-90)" textLength="60.5" lengthAdjust="spacing">09.02.2005</text>
<text transform="translate(388.0 315) rotate(-90)" textLength="60.5" lengthAdjust="spacing">10.02.2005</text>
<text transform="translate(419.0 315) rotate(-90)" textLength="60.5" lengthAdjust="spacing">11.02.2005</text>
<text transform="translate(449.0 315) rotate(-90)" textLength="60.5" lengthAdjust="spacing">12.02.2005</text>
<text transform="translate(479.0 315) rotate(-90)" textLength="60.5" lengthAdjust="spacing">13.02.2005</text>
<text transform="translate(510.0 315) rotate(-90)" textLength="60.5" lengthAdjust="spacing">14.02.2005</text>
<text transform="translate(540.0 315) rotate(-90)" textLength="60.5" lengthAdjust="spacing">15.02.2005</text>
<text transform="translate(570.0 315) rotate(-90)" textLength="60.5" lengthAdjust="spacing">16.02.2005</text>
<text transform="translate(600.0 315) rotate(-90)" textLength="60.5" lengthAdjust="spacing">17.02.2005</text>
<text transform="translate(630.0 315) rotate(-90)" textLength="60.5" lengthAdjust="spacing">18.02.2005</text>
<text transform="translate(660.0 315) rotate(-90)" textLength="60.5" lengthAdjust="spacing">19.02.2005</text>
<text transform="translate(691.0 315) rotate(-90)" textLength="60.5" lengthAdjust="spacing">20.02.2005</text>
<text transform="translate(721.0 315) rotate(-90)" textLength="60.5" lengthAdjust="spacing">21.02.2005</text>
<text transform="translate(751.0 315) rotate(-90)" textLength="60.5" lengthAdjust="spacing">22.02.2005</text>
<text transform="translate(782.0 315) rotate(-90)" textLength="60.5" lengthAdjust="spacing">23.02.2005</text>
<text transform="translate(812.0 315) rotate(-90)" textLength="60.5" lengthAdjust="spacing">24.02.2005</text>
<text transform="translate(842.0 315) rotate(-90)" textLength="60.5" lengthAdjust="spacing">25.02.2005</text>
<text transform="translate(873.0 315) rotate(-90)" textLength="60.5" lengthAdjust="spacing">26.02.2005</text>
<text transform="translate(903.0 315) rotate(-90)" textLength="60.5" lengthAdjust="spacing">27.02.2005</text>
<text transform="translate(934.0 315) rotate(-90)" textLength="60.5" lengthAdjust="spacing">28.02.2005</text>
<text transform="translate(963.0 315) rotate(-90)" textLength="60.5" lengthAdjust="spacing">01.03.2005</text>
<text transform="translate(993.0 315) rotate(-90)" textLength="60.5" lengthAdjust="spacing">02.03.2005</text>
<text transform="translate(1023.0 315) rotate(-90)" textLength="60.5" lengthAdjust="spacing">03.03.2005</text>
<text transform="translate(1054.0 315) rotate(-90)" textLength="60.5" lengthAdjust="spacing">04.03.2005</text>
<text transform="translate(1084.0 315) rotate(-90)" textLength="60.5" lengthAdjust="spacing">05.03.2005</text>
<text transform="translate(1114.0 315) rotate(-90)" textLength="60.5" lengthAdjust="spacing">06.03.2005</text>
</g>
<g filter="url(#ctb)" font-family="'Liberation Sans', Arial, sans-serif" font-size="16.5" font-weight="bold" fill="#000"><text y="33"><tspan x="408" textLength="156" lengthAdjust="spacing">Außentemperatur</tspan> <tspan x="569" textLength="5.5">-</tspan> <tspan x="578.6" textLength="68.5" lengthAdjust="spacing">Februar</tspan> <tspan x="653.8" textLength="40.5" lengthAdjust="spacing">2005</tspan> <tspan x="700.8" textLength="32" lengthAdjust="spacing">(°C)</tspan></text></g>
</svg>
</body></html>
